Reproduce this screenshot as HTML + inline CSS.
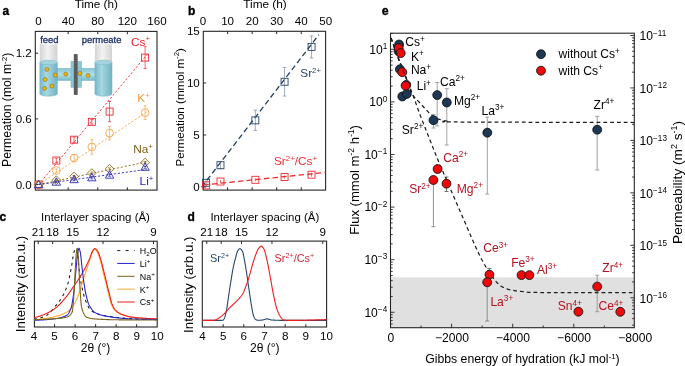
<!DOCTYPE html>
<html><head><meta charset="utf-8"><style>
html,body{margin:0;padding:0;background:#fff;width:685px;height:366px;overflow:hidden;}
svg{display:block;will-change:transform;}
text{font-family:"Liberation Sans", sans-serif;}
</style></head><body>
<svg width="685" height="366" viewBox="0 0 685 366">
<defs><linearGradient id="gglass" x1="0" x2="1" y1="0" y2="0"><stop offset="0" stop-color="#d4d4d4"/><stop offset="0.45" stop-color="#f2f2f2"/><stop offset="1" stop-color="#d2d2d2"/></linearGradient><linearGradient id="gwater" x1="0" x2="1" y1="0" y2="0"><stop offset="0" stop-color="#74b9c8"/><stop offset="0.38" stop-color="#a6d8e2"/><stop offset="1" stop-color="#70b3c3"/></linearGradient><linearGradient id="gtube" x1="0" x2="0" y1="0" y2="1"><stop offset="0" stop-color="#86c4d1"/><stop offset="0.5" stop-color="#b0dee7"/><stop offset="1" stop-color="#78b8c7"/></linearGradient></defs>
<rect x="56.5" y="68.2" width="16" height="12.4" fill="url(#gtube)" stroke="#7fbccb" stroke-width="0.5"/>
<rect x="80.5" y="68.2" width="15" height="12.4" fill="url(#gtube)" stroke="#7fbccb" stroke-width="0.5"/>
<path d="M39.8,44.3 L39.8,62.5 L57.4,62.5 L57.4,44.3 Z" fill="url(#gglass)" />
<path d="M39.8,62.5 L39.8,94.0 A8.8,2.2 0 0 0 57.4,94.0 L57.4,62.5 Z" fill="url(#gwater)" stroke="#72b3c2" stroke-width="0.5"/>
<ellipse cx="48.599999999999994" cy="62.5" rx="8.8" ry="2.2" fill="#a2d5df" stroke="#76b6c4" stroke-width="0.5"/>
<path d="M94.9,44.3 L94.9,62.5 L112.0,62.5 L112.0,44.3 Z" fill="url(#gglass)" />
<path d="M94.9,62.5 L94.9,94.0 A8.549999999999997,2.2 0 0 0 112.0,94.0 L112.0,62.5 Z" fill="url(#gwater)" stroke="#72b3c2" stroke-width="0.5"/>
<ellipse cx="103.45" cy="62.5" rx="8.549999999999997" ry="2.2" fill="#a2d5df" stroke="#76b6c4" stroke-width="0.5"/>
<rect x="71" y="61.5" width="10.5" height="25.8" fill="#8bc8d4" stroke="#6eaebd" stroke-width="0.5"/>
<rect x="73.8" y="53.9" width="3.9" height="41.1" rx="1" fill="#5c5c5c"/>
<circle cx="46.9" cy="69.4" r="2.0" fill="#f2b10c" stroke="#6a5000" stroke-width="0.4"/>
<circle cx="55.4" cy="75.1" r="2.0" fill="#f2b10c" stroke="#6a5000" stroke-width="0.4"/>
<circle cx="65.8" cy="74.2" r="2.0" fill="#f2b10c" stroke="#6a5000" stroke-width="0.4"/>
<circle cx="45.2" cy="79.6" r="2.0" fill="#f2b10c" stroke="#6a5000" stroke-width="0.4"/>
<circle cx="51.8" cy="86.0" r="2.0" fill="#f2b10c" stroke="#6a5000" stroke-width="0.4"/>
<circle cx="44.5" cy="88.4" r="2.0" fill="#f2b10c" stroke="#6a5000" stroke-width="0.4"/>
<circle cx="80.0" cy="73.4" r="2.0" fill="#f2b10c" stroke="#6a5000" stroke-width="0.4"/>
<circle cx="88.0" cy="75.5" r="2.0" fill="#f2b10c" stroke="#6a5000" stroke-width="0.4"/>
<text x="40.20" y="42.60" font-size="9.4" text-anchor="start" fill="#1a2f6c" font-weight="normal" stroke="#1a2f6c" stroke-width="0.3">feed</text>
<text x="81.80" y="42.60" font-size="9.4" text-anchor="start" fill="#1a2f6c" font-weight="normal" stroke="#1a2f6c" stroke-width="0.3">permeate</text>
<rect x="35.30" y="31.40" width="121.70" height="158.70" fill="none" stroke="#262626" stroke-width="1.1"/>
<text x="38.60" y="25.40" font-size="11.6" text-anchor="middle" fill="#000" font-weight="normal" >0</text>
<line x1="68.18" y1="31.40" x2="68.18" y2="34.20" stroke="#262626" stroke-width="1" />
<line x1="68.18" y1="190.10" x2="68.18" y2="187.30" stroke="#262626" stroke-width="1" />
<text x="68.18" y="25.40" font-size="11.6" text-anchor="middle" fill="#000" font-weight="normal" >40</text>
<line x1="97.76" y1="31.40" x2="97.76" y2="34.20" stroke="#262626" stroke-width="1" />
<line x1="97.76" y1="190.10" x2="97.76" y2="187.30" stroke="#262626" stroke-width="1" />
<text x="97.76" y="25.40" font-size="11.6" text-anchor="middle" fill="#000" font-weight="normal" >80</text>
<line x1="127.34" y1="31.40" x2="127.34" y2="34.20" stroke="#262626" stroke-width="1" />
<line x1="127.34" y1="190.10" x2="127.34" y2="187.30" stroke="#262626" stroke-width="1" />
<text x="127.34" y="25.40" font-size="11.6" text-anchor="middle" fill="#000" font-weight="normal" >120</text>
<text x="156.92" y="25.40" font-size="11.6" text-anchor="middle" fill="#000" font-weight="normal" >160</text>
<line x1="35.30" y1="53.20" x2="38.10" y2="53.20" stroke="#262626" stroke-width="1" />
<text x="31.80" y="57.10" font-size="11.6" text-anchor="end" fill="#000" font-weight="normal" >1.2</text>
<line x1="35.30" y1="118.90" x2="38.10" y2="118.90" stroke="#262626" stroke-width="1" />
<text x="31.80" y="122.80" font-size="11.6" text-anchor="end" fill="#000" font-weight="normal" >0.6</text>
<line x1="35.30" y1="184.60" x2="38.10" y2="184.60" stroke="#262626" stroke-width="1" />
<text x="31.80" y="188.50" font-size="11.6" text-anchor="end" fill="#000" font-weight="normal" >0.0</text>
<text x="96.30" y="8.10" font-size="11.7" text-anchor="middle" fill="#000" font-weight="normal" textLength="43.2" lengthAdjust="spacingAndGlyphs" >Time (h)</text>
<text x="2.40" y="14.80" font-size="12" text-anchor="start" fill="#000" font-weight="bold" stroke="#000" stroke-width="0.35">a</text>
<text transform="translate(11.30,109.80) rotate(-90)" x="0" y="0" font-size="11.9" text-anchor="middle" fill="#000" textLength="114.2" lengthAdjust="spacingAndGlyphs">Permeation  (mol m<tspan dy="-4.4" font-size="7.8">-2</tspan><tspan dy="4.4">)</tspan></text>
<line x1="38.60" y1="184.60" x2="147.50" y2="54.00" stroke="#ee2a30" stroke-width="0.9" stroke-dasharray="2.2,1.8"/>
<line x1="38.60" y1="184.60" x2="146.60" y2="112.00" stroke="#f8a54c" stroke-width="0.9" stroke-dasharray="2.2,1.8"/>
<line x1="38.60" y1="184.60" x2="146.60" y2="161.90" stroke="#8e6e1e" stroke-width="0.9" stroke-dasharray="2.2,1.8"/>
<line x1="38.60" y1="184.60" x2="146.60" y2="169.40" stroke="#2a2ab4" stroke-width="0.9" stroke-dasharray="2.2,1.8"/>
<rect x="35.10" y="181.10" width="7" height="7" fill="none" stroke="#ee2a30" stroke-width="0.9"/>
<line x1="56.35" y1="158.32" x2="56.35" y2="162.70" stroke="#ee2a30" stroke-width="0.7" />
<line x1="54.85" y1="158.32" x2="57.85" y2="158.32" stroke="#ee2a30" stroke-width="0.7" />
<line x1="54.85" y1="162.70" x2="57.85" y2="162.70" stroke="#ee2a30" stroke-width="0.7" />
<rect x="52.85" y="157.01" width="7" height="7" fill="none" stroke="#ee2a30" stroke-width="0.9"/>
<line x1="74.10" y1="136.97" x2="74.10" y2="142.44" stroke="#ee2a30" stroke-width="0.7" />
<line x1="72.60" y1="136.97" x2="75.60" y2="136.97" stroke="#ee2a30" stroke-width="0.7" />
<line x1="72.60" y1="142.44" x2="75.60" y2="142.44" stroke="#ee2a30" stroke-width="0.7" />
<rect x="70.60" y="136.20" width="7" height="7" fill="none" stroke="#ee2a30" stroke-width="0.9"/>
<line x1="91.84" y1="119.67" x2="91.84" y2="124.05" stroke="#ee2a30" stroke-width="0.7" />
<line x1="90.34" y1="119.67" x2="93.34" y2="119.67" stroke="#ee2a30" stroke-width="0.7" />
<line x1="90.34" y1="124.05" x2="93.34" y2="124.05" stroke="#ee2a30" stroke-width="0.7" />
<rect x="88.34" y="118.36" width="7" height="7" fill="none" stroke="#ee2a30" stroke-width="0.9"/>
<line x1="109.59" y1="101.49" x2="109.59" y2="121.64" stroke="#ee2a30" stroke-width="0.7" />
<line x1="108.09" y1="101.49" x2="111.09" y2="101.49" stroke="#ee2a30" stroke-width="0.7" />
<line x1="108.09" y1="121.64" x2="111.09" y2="121.64" stroke="#ee2a30" stroke-width="0.7" />
<rect x="106.09" y="108.06" width="7" height="7" fill="none" stroke="#ee2a30" stroke-width="0.9"/>
<line x1="145.09" y1="46.63" x2="145.09" y2="68.53" stroke="#ee2a30" stroke-width="0.7" />
<line x1="143.59" y1="46.63" x2="146.59" y2="46.63" stroke="#ee2a30" stroke-width="0.7" />
<line x1="143.59" y1="68.53" x2="146.59" y2="68.53" stroke="#ee2a30" stroke-width="0.7" />
<rect x="141.59" y="54.08" width="7" height="7" fill="none" stroke="#ee2a30" stroke-width="0.9"/>
<circle cx="38.60" cy="184.60" r="3.9" fill="none" stroke="#f8a54c" stroke-width="0.9"/>
<line x1="56.35" y1="168.94" x2="56.35" y2="172.23" stroke="#f8a54c" stroke-width="0.7" />
<line x1="54.85" y1="168.94" x2="57.85" y2="168.94" stroke="#f8a54c" stroke-width="0.7" />
<line x1="54.85" y1="172.23" x2="57.85" y2="172.23" stroke="#f8a54c" stroke-width="0.7" />
<circle cx="56.35" cy="170.58" r="3.9" fill="none" stroke="#f8a54c" stroke-width="0.9"/>
<line x1="74.10" y1="154.71" x2="74.10" y2="161.28" stroke="#f8a54c" stroke-width="0.7" />
<line x1="72.60" y1="154.71" x2="75.60" y2="154.71" stroke="#f8a54c" stroke-width="0.7" />
<line x1="72.60" y1="161.28" x2="75.60" y2="161.28" stroke="#f8a54c" stroke-width="0.7" />
<circle cx="74.10" cy="157.99" r="3.9" fill="none" stroke="#f8a54c" stroke-width="0.9"/>
<line x1="91.84" y1="139.60" x2="91.84" y2="154.27" stroke="#f8a54c" stroke-width="0.7" />
<line x1="90.34" y1="139.60" x2="93.34" y2="139.60" stroke="#f8a54c" stroke-width="0.7" />
<line x1="90.34" y1="154.27" x2="93.34" y2="154.27" stroke="#f8a54c" stroke-width="0.7" />
<circle cx="91.84" cy="146.93" r="3.9" fill="none" stroke="#f8a54c" stroke-width="0.9"/>
<line x1="109.59" y1="126.35" x2="109.59" y2="139.92" stroke="#f8a54c" stroke-width="0.7" />
<line x1="108.09" y1="126.35" x2="111.09" y2="126.35" stroke="#f8a54c" stroke-width="0.7" />
<line x1="108.09" y1="139.92" x2="111.09" y2="139.92" stroke="#f8a54c" stroke-width="0.7" />
<circle cx="109.59" cy="133.13" r="3.9" fill="none" stroke="#f8a54c" stroke-width="0.9"/>
<line x1="145.09" y1="105.76" x2="145.09" y2="119.56" stroke="#f8a54c" stroke-width="0.7" />
<line x1="143.59" y1="105.76" x2="146.59" y2="105.76" stroke="#f8a54c" stroke-width="0.7" />
<line x1="143.59" y1="119.56" x2="146.59" y2="119.56" stroke="#f8a54c" stroke-width="0.7" />
<circle cx="145.09" cy="112.66" r="3.9" fill="none" stroke="#f8a54c" stroke-width="0.9"/>
<path d="M38.60,180.20 L43.00,184.60 L38.60,189.00 L34.20,184.60 Z" fill="none" stroke="#8e6e1e" stroke-width="0.9"/>
<line x1="56.35" y1="179.67" x2="56.35" y2="180.77" stroke="#8e6e1e" stroke-width="0.7" />
<line x1="54.85" y1="179.67" x2="57.85" y2="179.67" stroke="#8e6e1e" stroke-width="0.7" />
<line x1="54.85" y1="180.77" x2="57.85" y2="180.77" stroke="#8e6e1e" stroke-width="0.7" />
<path d="M56.35,175.82 L60.75,180.22 L56.35,184.62 L51.95,180.22 Z" fill="none" stroke="#8e6e1e" stroke-width="0.9"/>
<line x1="74.10" y1="175.29" x2="74.10" y2="177.48" stroke="#8e6e1e" stroke-width="0.7" />
<line x1="72.60" y1="175.29" x2="75.60" y2="175.29" stroke="#8e6e1e" stroke-width="0.7" />
<line x1="72.60" y1="177.48" x2="75.60" y2="177.48" stroke="#8e6e1e" stroke-width="0.7" />
<path d="M74.10,171.99 L78.50,176.39 L74.10,180.79 L69.70,176.39 Z" fill="none" stroke="#8e6e1e" stroke-width="0.9"/>
<line x1="91.84" y1="172.01" x2="91.84" y2="174.20" stroke="#8e6e1e" stroke-width="0.7" />
<line x1="90.34" y1="172.01" x2="93.34" y2="172.01" stroke="#8e6e1e" stroke-width="0.7" />
<line x1="90.34" y1="174.20" x2="93.34" y2="174.20" stroke="#8e6e1e" stroke-width="0.7" />
<path d="M91.84,168.70 L96.24,173.10 L91.84,177.50 L87.44,173.10 Z" fill="none" stroke="#8e6e1e" stroke-width="0.9"/>
<line x1="109.59" y1="167.85" x2="109.59" y2="170.04" stroke="#8e6e1e" stroke-width="0.7" />
<line x1="108.09" y1="167.85" x2="111.09" y2="167.85" stroke="#8e6e1e" stroke-width="0.7" />
<line x1="108.09" y1="170.04" x2="111.09" y2="170.04" stroke="#8e6e1e" stroke-width="0.7" />
<path d="M109.59,164.54 L113.99,168.94 L109.59,173.34 L105.19,168.94 Z" fill="none" stroke="#8e6e1e" stroke-width="0.9"/>
<line x1="145.09" y1="161.50" x2="145.09" y2="163.69" stroke="#8e6e1e" stroke-width="0.7" />
<line x1="143.59" y1="161.50" x2="146.59" y2="161.50" stroke="#8e6e1e" stroke-width="0.7" />
<line x1="143.59" y1="163.69" x2="146.59" y2="163.69" stroke="#8e6e1e" stroke-width="0.7" />
<path d="M145.09,158.19 L149.49,162.59 L145.09,166.99 L140.69,162.59 Z" fill="none" stroke="#8e6e1e" stroke-width="0.9"/>
<path d="M38.60,180.20 L42.80,187.60 L34.40,187.60 Z" fill="none" stroke="#2a2ab4" stroke-width="0.9"/>
<line x1="56.35" y1="181.64" x2="56.35" y2="182.74" stroke="#2a2ab4" stroke-width="0.7" />
<line x1="54.85" y1="181.64" x2="57.85" y2="181.64" stroke="#2a2ab4" stroke-width="0.7" />
<line x1="54.85" y1="182.74" x2="57.85" y2="182.74" stroke="#2a2ab4" stroke-width="0.7" />
<path d="M56.35,177.79 L60.55,185.19 L52.15,185.19 Z" fill="none" stroke="#2a2ab4" stroke-width="0.9"/>
<line x1="74.10" y1="178.58" x2="74.10" y2="180.77" stroke="#2a2ab4" stroke-width="0.7" />
<line x1="72.60" y1="178.58" x2="75.60" y2="178.58" stroke="#2a2ab4" stroke-width="0.7" />
<line x1="72.60" y1="180.77" x2="75.60" y2="180.77" stroke="#2a2ab4" stroke-width="0.7" />
<path d="M74.10,175.27 L78.30,182.67 L69.90,182.67 Z" fill="none" stroke="#2a2ab4" stroke-width="0.9"/>
<line x1="91.84" y1="176.72" x2="91.84" y2="178.91" stroke="#2a2ab4" stroke-width="0.7" />
<line x1="90.34" y1="176.72" x2="93.34" y2="176.72" stroke="#2a2ab4" stroke-width="0.7" />
<line x1="90.34" y1="178.91" x2="93.34" y2="178.91" stroke="#2a2ab4" stroke-width="0.7" />
<path d="M91.84,173.41 L96.04,180.81 L87.64,180.81 Z" fill="none" stroke="#2a2ab4" stroke-width="0.9"/>
<line x1="109.59" y1="174.09" x2="109.59" y2="176.28" stroke="#2a2ab4" stroke-width="0.7" />
<line x1="108.09" y1="174.09" x2="111.09" y2="174.09" stroke="#2a2ab4" stroke-width="0.7" />
<line x1="108.09" y1="176.28" x2="111.09" y2="176.28" stroke="#2a2ab4" stroke-width="0.7" />
<path d="M109.59,170.78 L113.79,178.18 L105.39,178.18 Z" fill="none" stroke="#2a2ab4" stroke-width="0.9"/>
<line x1="145.09" y1="166.20" x2="145.09" y2="168.39" stroke="#2a2ab4" stroke-width="0.7" />
<line x1="143.59" y1="166.20" x2="146.59" y2="166.20" stroke="#2a2ab4" stroke-width="0.7" />
<line x1="143.59" y1="168.39" x2="146.59" y2="168.39" stroke="#2a2ab4" stroke-width="0.7" />
<path d="M145.09,162.90 L149.29,170.30 L140.89,170.30 Z" fill="none" stroke="#2a2ab4" stroke-width="0.9"/>
<text x="131.00" y="45.60" font-size="11.8" text-anchor="start" fill="#ee1c24" font-weight="normal" >Cs<tspan dy="-4.4" font-size="7.8">+</tspan></text>
<text x="137.30" y="101.90" font-size="11.8" text-anchor="start" fill="#f79a3a" font-weight="normal" >K<tspan dy="-4.4" font-size="7.8">+</tspan></text>
<text x="133.20" y="153.40" font-size="11.8" text-anchor="start" fill="#7e611a" font-weight="normal" >Na<tspan dy="-4.4" font-size="7.8">+</tspan></text>
<text x="139.60" y="185.00" font-size="11.8" text-anchor="start" fill="#1e1eaa" font-weight="normal" >Li<tspan dy="-4.4" font-size="7.8">+</tspan></text>
<rect x="203.30" y="31.30" width="122.30" height="158.80" fill="none" stroke="#262626" stroke-width="1.1"/>
<text x="203.05" y="25.40" font-size="11.6" text-anchor="middle" fill="#000" font-weight="normal" >0</text>
<line x1="227.60" y1="31.30" x2="227.60" y2="34.10" stroke="#262626" stroke-width="1" />
<line x1="227.60" y1="190.10" x2="227.60" y2="187.30" stroke="#262626" stroke-width="1" />
<text x="227.60" y="25.40" font-size="11.6" text-anchor="middle" fill="#000" font-weight="normal" >10</text>
<line x1="252.15" y1="31.30" x2="252.15" y2="34.10" stroke="#262626" stroke-width="1" />
<line x1="252.15" y1="190.10" x2="252.15" y2="187.30" stroke="#262626" stroke-width="1" />
<text x="252.15" y="25.40" font-size="11.6" text-anchor="middle" fill="#000" font-weight="normal" >20</text>
<line x1="276.70" y1="31.30" x2="276.70" y2="34.10" stroke="#262626" stroke-width="1" />
<line x1="276.70" y1="190.10" x2="276.70" y2="187.30" stroke="#262626" stroke-width="1" />
<text x="276.70" y="25.40" font-size="11.6" text-anchor="middle" fill="#000" font-weight="normal" >30</text>
<line x1="301.25" y1="31.30" x2="301.25" y2="34.10" stroke="#262626" stroke-width="1" />
<line x1="301.25" y1="190.10" x2="301.25" y2="187.30" stroke="#262626" stroke-width="1" />
<text x="301.25" y="25.40" font-size="11.6" text-anchor="middle" fill="#000" font-weight="normal" >40</text>
<text x="325.80" y="25.40" font-size="11.6" text-anchor="middle" fill="#000" font-weight="normal" >50</text>
<text x="199.80" y="35.00" font-size="11.6" text-anchor="end" fill="#000" font-weight="normal" >15</text>
<line x1="203.30" y1="83.00" x2="206.10" y2="83.00" stroke="#262626" stroke-width="1" />
<text x="199.80" y="87.00" font-size="11.6" text-anchor="end" fill="#000" font-weight="normal" >10</text>
<line x1="203.30" y1="135.00" x2="206.10" y2="135.00" stroke="#262626" stroke-width="1" />
<text x="199.80" y="139.00" font-size="11.6" text-anchor="end" fill="#000" font-weight="normal" >5</text>
<line x1="203.30" y1="187.00" x2="206.10" y2="187.00" stroke="#262626" stroke-width="1" />
<text x="199.80" y="191.00" font-size="11.6" text-anchor="end" fill="#000" font-weight="normal" >0</text>
<text x="265.00" y="8.30" font-size="11.7" text-anchor="middle" fill="#000" font-weight="normal" textLength="43.5" lengthAdjust="spacingAndGlyphs" >Time (h)</text>
<text x="188.00" y="14.80" font-size="12" text-anchor="start" fill="#000" font-weight="bold" stroke="#000" stroke-width="0.35">b</text>
<text transform="translate(183.80,107.30) rotate(-90)" x="0" y="0" font-size="11.6" text-anchor="middle" fill="#000" textLength="118.4" lengthAdjust="spacingAndGlyphs">Permeation (mmol m<tspan dy="-4.4" font-size="7.8">-2</tspan><tspan dy="4.4">)</tspan></text>
<line x1="201.58" y1="187.15" x2="318.93" y2="34.66" stroke="#22405f" stroke-width="1.3" stroke-dasharray="5.5,3.2"/>
<line x1="203.30" y1="185.00" x2="325.60" y2="172.40" stroke="#ee2b30" stroke-width="1.3" stroke-dasharray="5.5,3.2"/>
<line x1="206.12" y1="181.23" x2="206.12" y2="184.29" stroke="#7a8aa0" stroke-width="0.7" />
<line x1="204.32" y1="181.23" x2="207.92" y2="181.23" stroke="#7a8aa0" stroke-width="0.7" />
<line x1="204.32" y1="184.29" x2="207.92" y2="184.29" stroke="#7a8aa0" stroke-width="0.7" />
<rect x="202.62" y="179.26" width="7" height="7" fill="none" stroke="#28466a" stroke-width="0.9"/>
<line x1="220.48" y1="161.65" x2="220.48" y2="168.79" stroke="#7a8aa0" stroke-width="0.7" />
<line x1="218.68" y1="161.65" x2="222.28" y2="161.65" stroke="#7a8aa0" stroke-width="0.7" />
<line x1="218.68" y1="168.79" x2="222.28" y2="168.79" stroke="#7a8aa0" stroke-width="0.7" />
<rect x="216.98" y="161.72" width="7" height="7" fill="none" stroke="#28466a" stroke-width="0.9"/>
<line x1="255.34" y1="110.14" x2="255.34" y2="130.54" stroke="#7a8aa0" stroke-width="0.7" />
<line x1="253.54" y1="110.14" x2="257.14" y2="110.14" stroke="#7a8aa0" stroke-width="0.7" />
<line x1="253.54" y1="130.54" x2="257.14" y2="130.54" stroke="#7a8aa0" stroke-width="0.7" />
<rect x="251.84" y="116.84" width="7" height="7" fill="none" stroke="#28466a" stroke-width="0.9"/>
<line x1="284.56" y1="67.50" x2="284.56" y2="96.06" stroke="#7a8aa0" stroke-width="0.7" />
<line x1="282.76" y1="67.50" x2="286.36" y2="67.50" stroke="#7a8aa0" stroke-width="0.7" />
<line x1="282.76" y1="96.06" x2="286.36" y2="96.06" stroke="#7a8aa0" stroke-width="0.7" />
<rect x="281.06" y="78.28" width="7" height="7" fill="none" stroke="#28466a" stroke-width="0.9"/>
<line x1="311.56" y1="35.88" x2="311.56" y2="57.92" stroke="#7a8aa0" stroke-width="0.7" />
<line x1="309.76" y1="35.88" x2="313.36" y2="35.88" stroke="#7a8aa0" stroke-width="0.7" />
<line x1="309.76" y1="57.92" x2="313.36" y2="57.92" stroke="#7a8aa0" stroke-width="0.7" />
<rect x="308.06" y="43.40" width="7" height="7" fill="none" stroke="#28466a" stroke-width="0.9"/>
<line x1="206.12" y1="184.40" x2="206.12" y2="186.44" stroke="#ee2b30" stroke-width="0.7" />
<rect x="202.62" y="181.92" width="7" height="7" fill="none" stroke="#ee2b30" stroke-width="0.9"/>
<line x1="220.48" y1="180.01" x2="220.48" y2="183.07" stroke="#ee2b30" stroke-width="0.7" />
<rect x="216.98" y="178.04" width="7" height="7" fill="none" stroke="#ee2b30" stroke-width="0.9"/>
<line x1="255.34" y1="178.28" x2="255.34" y2="181.34" stroke="#ee2b30" stroke-width="0.7" />
<rect x="251.84" y="176.31" width="7" height="7" fill="none" stroke="#ee2b30" stroke-width="0.9"/>
<line x1="284.56" y1="175.52" x2="284.56" y2="178.58" stroke="#ee2b30" stroke-width="0.7" />
<rect x="281.06" y="173.55" width="7" height="7" fill="none" stroke="#ee2b30" stroke-width="0.9"/>
<line x1="311.56" y1="172.67" x2="311.56" y2="176.75" stroke="#ee2b30" stroke-width="0.7" />
<rect x="308.06" y="171.21" width="7" height="7" fill="none" stroke="#ee2b30" stroke-width="0.9"/>
<text x="300.30" y="77.00" font-size="11.8" text-anchor="start" fill="#28466a" font-weight="normal" >Sr<tspan dy="-4.4" font-size="7.8">2+</tspan></text>
<text x="274.00" y="165.40" font-size="11.8" text-anchor="start" fill="#ee2b30" font-weight="normal" >Sr<tspan dy="-4.4" font-size="7.8">2+</tspan><tspan dy="4.4">/Cs</tspan><tspan dy="-4.4" font-size="7.8">+</tspan></text>
<rect x="34.40" y="241.20" width="122.80" height="85.80" fill="none" stroke="#262626" stroke-width="1.1"/>
<text x="34.05" y="340.30" font-size="11.6" text-anchor="middle" fill="#000" font-weight="normal" >4</text>
<line x1="54.57" y1="327.00" x2="54.57" y2="324.20" stroke="#262626" stroke-width="1" />
<text x="54.57" y="340.30" font-size="11.6" text-anchor="middle" fill="#000" font-weight="normal" >5</text>
<line x1="75.09" y1="327.00" x2="75.09" y2="324.20" stroke="#262626" stroke-width="1" />
<text x="75.09" y="340.30" font-size="11.6" text-anchor="middle" fill="#000" font-weight="normal" >6</text>
<line x1="95.61" y1="327.00" x2="95.61" y2="324.20" stroke="#262626" stroke-width="1" />
<text x="95.61" y="340.30" font-size="11.6" text-anchor="middle" fill="#000" font-weight="normal" >7</text>
<line x1="116.13" y1="327.00" x2="116.13" y2="324.20" stroke="#262626" stroke-width="1" />
<text x="116.13" y="340.30" font-size="11.6" text-anchor="middle" fill="#000" font-weight="normal" >8</text>
<line x1="136.65" y1="327.00" x2="136.65" y2="324.20" stroke="#262626" stroke-width="1" />
<text x="136.65" y="340.30" font-size="11.6" text-anchor="middle" fill="#000" font-weight="normal" >9</text>
<text x="157.17" y="340.30" font-size="11.6" text-anchor="middle" fill="#000" font-weight="normal" >10</text>
<line x1="38.24" y1="241.20" x2="38.24" y2="244.00" stroke="#262626" stroke-width="1" />
<text x="38.24" y="235.80" font-size="11.6" text-anchor="middle" fill="#000" font-weight="normal" >21</text>
<line x1="52.63" y1="241.20" x2="52.63" y2="244.00" stroke="#262626" stroke-width="1" />
<text x="52.63" y="235.80" font-size="11.6" text-anchor="middle" fill="#000" font-weight="normal" >18</text>
<line x1="72.78" y1="241.20" x2="72.78" y2="244.00" stroke="#262626" stroke-width="1" />
<text x="72.78" y="235.80" font-size="11.6" text-anchor="middle" fill="#000" font-weight="normal" >15</text>
<line x1="103.02" y1="241.20" x2="103.02" y2="244.00" stroke="#262626" stroke-width="1" />
<text x="103.02" y="235.80" font-size="11.6" text-anchor="middle" fill="#000" font-weight="normal" >12</text>
<line x1="153.47" y1="241.20" x2="153.47" y2="244.00" stroke="#262626" stroke-width="1" />
<text x="153.47" y="235.80" font-size="11.6" text-anchor="middle" fill="#000" font-weight="normal" >9</text>
<text x="95.60" y="352.40" font-size="12" text-anchor="middle" fill="#000" font-weight="normal" >2θ (°)</text>
<text x="95.50" y="220.90" font-size="11.7" text-anchor="middle" fill="#000" font-weight="normal" textLength="108.8" lengthAdjust="spacingAndGlyphs" >Interlayer spacing (Å)</text>
<text x="-0.40" y="221.40" font-size="12" text-anchor="start" fill="#000" font-weight="bold" stroke="#000" stroke-width="0.35">c</text>
<text transform="translate(25.00,284.00) rotate(-90)" x="0" y="0" font-size="13.2" text-anchor="middle" fill="#000" textLength="96.4" lengthAdjust="spacingAndGlyphs">Intensity (arb.u.)</text>
<polyline points="34.05,319.00 34.30,319.00 34.54,318.99 34.79,318.98 35.04,318.97 35.28,318.95 35.53,318.93 35.78,318.91 36.02,318.88 36.27,318.85 36.52,318.82 36.76,318.78 37.01,318.74 37.26,318.70 37.50,318.65 37.75,318.60 38.00,318.55 38.24,318.50 38.49,318.44 38.74,318.38 38.98,318.32 39.23,318.26 39.48,318.19 39.72,318.12 39.97,318.05 40.22,317.98 40.47,317.90 40.71,317.83 40.96,317.75 41.21,317.67 41.45,317.59 41.70,317.50 41.95,317.42 42.19,317.33 42.44,317.24 42.69,317.16 42.93,317.06 43.18,316.97 43.43,316.88 43.67,316.79 43.92,316.69 44.17,316.60 44.41,316.50 44.66,316.40 44.91,316.31 45.15,316.21 45.40,316.09 45.65,315.97 45.89,315.84 46.14,315.69 46.39,315.54 46.63,315.38 46.88,315.21 47.13,315.03 47.37,314.84 47.62,314.65 47.87,314.45 48.11,314.23 48.36,314.02 48.61,313.79 48.85,313.56 49.10,313.33 49.35,313.08 49.59,312.84 49.84,312.58 50.09,312.32 50.33,312.06 50.58,311.79 50.83,311.52 51.07,311.25 51.32,310.97 51.57,310.69 51.81,310.40 52.06,310.11 52.31,309.82 52.56,309.53 52.80,309.24 53.05,308.94 53.30,308.65 53.54,308.35 53.79,308.05 54.04,307.75 54.28,307.46 54.53,307.16 54.78,306.86 55.02,306.57 55.27,306.27 55.52,305.98 55.76,305.69 56.01,305.40 56.26,305.11 56.50,304.82 56.75,304.53 57.00,304.23 57.24,303.93 57.49,303.64 57.74,303.33 57.98,303.03 58.23,302.72 58.48,302.40 58.72,302.08 58.97,301.76 59.22,301.43 59.46,301.09 59.71,300.75 59.96,300.40 60.20,300.05 60.45,299.69 60.70,299.32 60.94,298.94 61.19,298.56 61.44,298.16 61.68,297.76 61.93,297.35 62.18,296.93 62.42,296.50 62.67,296.06 62.92,295.61 63.16,295.16 63.41,294.69 63.66,294.21 63.90,293.72 64.15,293.22 64.40,292.70 64.64,292.17 64.89,291.63 65.14,291.07 65.39,290.49 65.63,289.90 65.88,289.29 66.13,288.66 66.37,288.01 66.62,287.34 66.87,286.65 67.11,285.94 67.36,285.21 67.61,284.46 67.85,283.68 68.10,282.86 68.35,281.95 68.59,280.96 68.84,279.90 69.09,278.79 69.33,277.62 69.58,276.42 69.83,275.18 70.07,273.92 70.32,272.65 70.57,271.38 70.81,270.11 71.06,268.86 71.31,267.61 71.55,266.24 71.80,264.77 72.05,263.22 72.29,261.62 72.54,260.01 72.79,258.42 73.03,256.89 73.28,255.44 73.53,254.11 73.77,252.93 74.02,251.94 74.27,251.16 74.51,250.63 74.76,250.20 75.01,249.80 75.25,249.43 75.50,249.12 75.75,248.86 75.99,248.69 76.24,248.61 76.49,248.79 76.73,249.68 76.98,251.07 77.23,252.75 77.48,254.48 77.72,256.22 77.97,258.32 78.22,260.69 78.46,263.19 78.71,265.67 78.96,268.01 79.20,270.06 79.45,271.91 79.70,273.70 79.94,275.44 80.19,277.12 80.44,278.73 80.68,280.28 80.93,281.76 81.18,283.17 81.42,284.51 81.67,285.77 81.92,286.98 82.16,288.16 82.41,289.31 82.66,290.43 82.90,291.51 83.15,292.56 83.40,293.56 83.64,294.53 83.89,295.45 84.14,296.32 84.38,297.14 84.63,297.91 84.88,298.63 85.12,299.30 85.37,299.96 85.62,300.61 85.86,301.25 86.11,301.88 86.36,302.49 86.60,303.09 86.85,303.67 87.10,304.24 87.34,304.78 87.59,305.31 87.84,305.82 88.08,306.31 88.33,306.78 88.58,307.23 88.82,307.65 89.07,308.05 89.32,308.42 89.57,308.76 89.81,309.08 90.06,309.37 90.31,309.63 90.55,309.87 90.80,310.08 91.05,310.30 91.29,310.50 91.54,310.70 91.79,310.89 92.03,311.08 92.28,311.26 92.53,311.43 92.77,311.60 93.02,311.76 93.27,311.92 93.51,312.07 93.76,312.22 94.01,312.36 94.25,312.50 94.50,312.63 94.75,312.76 94.99,312.88 95.24,313.00 95.49,313.12 95.73,313.23 95.98,313.33 96.23,313.44 96.47,313.53 96.72,313.63 96.97,313.72 97.21,313.81 97.46,313.90 97.71,313.98 97.95,314.06 98.20,314.14 98.45,314.22 98.69,314.29 98.94,314.36 99.19,314.43 99.43,314.50 99.68,314.57 99.93,314.64 100.17,314.70 100.42,314.77 100.67,314.83 100.91,314.89 101.16,314.95 101.41,315.01 101.65,315.06 101.90,315.12 102.15,315.17 102.40,315.23 102.64,315.28 102.89,315.33 103.14,315.38 103.38,315.43 103.63,315.48 103.88,315.52 104.12,315.57 104.37,315.61 104.62,315.66 104.86,315.70 105.11,315.75 105.36,315.79 105.60,315.83 105.85,315.87 106.10,315.91 106.34,315.95 106.59,315.99 106.84,316.03 107.08,316.07 107.33,316.11 107.58,316.15 107.82,316.18 108.07,316.22 108.32,316.26 108.56,316.30 108.81,316.33 109.06,316.37 109.30,316.41 109.55,316.44 109.80,316.48 110.04,316.52 110.29,316.55 110.54,316.59 110.78,316.62 111.03,316.66 111.28,316.69 111.52,316.73 111.77,316.76 112.02,316.80 112.26,316.83 112.51,316.87 112.76,316.90 113.00,316.93 113.25,316.97 113.50,317.00 113.74,317.03 113.99,317.06 114.24,317.10 114.49,317.13 114.73,317.16 114.98,317.19 115.23,317.22 115.47,317.25 115.72,317.28 115.97,317.31 116.21,317.34 116.46,317.37 116.71,317.40 116.95,317.43 117.20,317.46 117.45,317.49 117.69,317.52 117.94,317.55 118.19,317.57 118.43,317.60 118.68,317.63 118.93,317.65 119.17,317.68 119.42,317.71 119.67,317.73 119.91,317.76 120.16,317.78 120.41,317.81 120.65,317.83 120.90,317.86 121.15,317.88 121.39,317.90 121.64,317.93 121.89,317.95 122.13,317.97 122.38,317.99 122.63,318.01 122.87,318.04 123.12,318.06 123.37,318.08 123.61,318.10 123.86,318.12 124.11,318.14 124.35,318.16 124.60,318.18 124.85,318.19 125.09,318.21 125.34,318.23 125.59,318.25 125.83,318.26 126.08,318.28 126.33,318.30 126.58,318.31 126.82,318.33 127.07,318.34 127.32,318.36 127.56,318.37 127.81,318.39 128.06,318.41 128.30,318.42 128.55,318.44 128.80,318.45 129.04,318.47 129.29,318.48 129.54,318.50 129.78,318.52 130.03,318.53 130.28,318.55 130.52,318.56 130.77,318.58 131.02,318.59 131.26,318.61 131.51,318.62 131.76,318.64 132.00,318.65 132.25,318.67 132.50,318.68 132.74,318.70 132.99,318.71 133.24,318.73 133.48,318.74 133.73,318.76 133.98,318.77 134.22,318.79 134.47,318.80 134.72,318.82 134.96,318.83 135.21,318.85 135.46,318.86 135.70,318.88 135.95,318.89 136.20,318.90 136.44,318.92 136.69,318.93 136.94,318.95 137.18,318.96 137.43,318.97 137.68,318.99 137.92,319.00 138.17,319.01 138.42,319.03 138.66,319.04 138.91,319.05 139.16,319.07 139.41,319.08 139.65,319.09 139.90,319.10 140.15,319.12 140.39,319.13 140.64,319.14 140.89,319.15 141.13,319.17 141.38,319.18 141.63,319.19 141.87,319.20 142.12,319.21 142.37,319.22 142.61,319.24 142.86,319.25 143.11,319.26 143.35,319.27 143.60,319.28 143.85,319.29 144.09,319.30 144.34,319.31 144.59,319.32 144.83,319.33 145.08,319.34 145.33,319.35 145.57,319.36 145.82,319.37 146.07,319.38 146.31,319.39 146.56,319.40 146.81,319.41 147.05,319.41 147.30,319.42 147.55,319.43 147.79,319.44 148.04,319.45 148.29,319.45 148.53,319.46 148.78,319.47 149.03,319.48 149.27,319.48 149.52,319.49 149.77,319.50 150.01,319.50 150.26,319.51 150.51,319.52 150.75,319.52 151.00,319.53 151.25,319.53 151.50,319.54 151.74,319.54 151.99,319.55 152.24,319.55 152.48,319.56 152.73,319.56 152.98,319.57 153.22,319.57 153.47,319.57 153.72,319.58 153.96,319.58 154.21,319.58 154.46,319.59 154.70,319.59 154.95,319.59 155.20,319.59 155.44,319.59 155.69,319.60 155.94,319.60 156.18,319.60 156.43,319.60 156.68,319.60 156.92,319.60 157.17,319.60" fill="none" stroke="#1a1a1a" stroke-width="1.1" stroke-dasharray="2.8,3.6" stroke-linejoin="round" />
<polyline points="34.05,319.60 34.30,319.60 34.54,319.60 34.79,319.59 35.04,319.59 35.28,319.58 35.53,319.58 35.78,319.57 36.02,319.56 36.27,319.55 36.52,319.54 36.76,319.53 37.01,319.52 37.26,319.50 37.50,319.49 37.75,319.47 38.00,319.45 38.24,319.43 38.49,319.41 38.74,319.39 38.98,319.37 39.23,319.35 39.48,319.33 39.72,319.30 39.97,319.28 40.22,319.25 40.47,319.22 40.71,319.20 40.96,319.17 41.21,319.14 41.45,319.11 41.70,319.08 41.95,319.04 42.19,319.01 42.44,318.98 42.69,318.94 42.93,318.91 43.18,318.87 43.43,318.83 43.67,318.80 43.92,318.76 44.17,318.72 44.41,318.68 44.66,318.64 44.91,318.60 45.15,318.56 45.40,318.52 45.65,318.47 45.89,318.43 46.14,318.39 46.39,318.34 46.63,318.30 46.88,318.25 47.13,318.21 47.37,318.16 47.62,318.11 47.87,318.06 48.11,318.02 48.36,317.97 48.61,317.92 48.85,317.87 49.10,317.82 49.35,317.77 49.59,317.72 49.84,317.67 50.09,317.61 50.33,317.56 50.58,317.51 50.83,317.46 51.07,317.40 51.32,317.35 51.57,317.30 51.81,317.24 52.06,317.19 52.31,317.14 52.56,317.08 52.80,317.03 53.05,316.97 53.30,316.92 53.54,316.86 53.79,316.81 54.04,316.75 54.28,316.69 54.53,316.64 54.78,316.58 55.02,316.53 55.27,316.47 55.52,316.41 55.76,316.36 56.01,316.30 56.26,316.24 56.50,316.18 56.75,316.12 57.00,316.06 57.24,316.00 57.49,315.93 57.74,315.87 57.98,315.80 58.23,315.73 58.48,315.66 58.72,315.58 58.97,315.51 59.22,315.43 59.46,315.35 59.71,315.27 59.96,315.19 60.20,315.10 60.45,315.02 60.70,314.93 60.94,314.84 61.19,314.75 61.44,314.65 61.68,314.56 61.93,314.46 62.18,314.36 62.42,314.26 62.67,314.15 62.92,314.04 63.16,313.93 63.41,313.82 63.66,313.71 63.90,313.59 64.15,313.47 64.40,313.35 64.64,313.23 64.89,313.11 65.14,312.98 65.39,312.85 65.63,312.71 65.88,312.58 66.13,312.44 66.37,312.30 66.62,312.16 66.87,312.01 67.11,311.86 67.36,311.70 67.61,311.52 67.85,311.34 68.10,311.15 68.35,310.95 68.59,310.74 68.84,310.53 69.09,310.30 69.33,310.06 69.58,309.82 69.83,309.57 70.07,309.31 70.32,309.05 70.57,308.77 70.81,308.49 71.06,308.20 71.31,307.91 71.55,307.61 71.80,307.30 72.05,306.98 72.29,306.66 72.54,306.34 72.79,306.01 73.03,305.67 73.28,305.33 73.53,304.98 73.77,304.63 74.02,304.25 74.27,303.86 74.51,303.45 74.76,303.02 75.01,302.57 75.25,302.11 75.50,301.63 75.75,301.13 75.99,300.62 76.24,300.09 76.49,299.56 76.73,299.01 76.98,298.44 77.23,297.87 77.48,297.29 77.72,296.69 77.97,296.09 78.22,295.48 78.46,294.84 78.71,294.17 78.96,293.46 79.20,292.73 79.45,291.97 79.70,291.19 79.94,290.39 80.19,289.58 80.44,288.75 80.68,287.92 80.93,287.08 81.18,286.24 81.42,285.41 81.67,284.58 81.92,283.75 82.16,282.95 82.41,282.15 82.66,281.38 82.90,280.62 83.15,279.87 83.40,279.11 83.64,278.36 83.89,277.62 84.14,276.87 84.38,276.13 84.63,275.39 84.88,274.65 85.12,273.91 85.37,273.18 85.62,272.44 85.86,271.71 86.11,270.98 86.36,270.25 86.60,269.52 86.85,268.79 87.10,268.06 87.34,267.33 87.59,266.60 87.84,265.87 88.08,265.15 88.33,264.42 88.58,263.69 88.82,262.96 89.07,262.23 89.32,261.49 89.57,260.74 89.81,259.96 90.06,259.17 90.31,258.38 90.55,257.58 90.80,256.79 91.05,256.01 91.29,255.25 91.54,254.52 91.79,253.82 92.03,253.17 92.28,252.56 92.53,252.01 92.77,251.47 93.02,250.90 93.27,250.35 93.51,249.86 93.76,249.48 94.01,249.25 94.25,249.20 94.50,249.25 94.75,249.35 94.99,249.49 95.24,249.67 95.49,249.88 95.73,250.11 95.98,250.35 96.23,250.60 96.47,250.88 96.72,251.23 96.97,251.64 97.21,252.10 97.46,252.61 97.71,253.17 97.95,253.76 98.20,254.38 98.45,255.03 98.69,255.71 98.94,256.39 99.19,257.09 99.43,257.79 99.68,258.50 99.93,259.27 100.17,260.10 100.42,260.97 100.67,261.89 100.91,262.84 101.16,263.83 101.41,264.84 101.65,265.88 101.90,266.93 102.15,268.00 102.40,269.08 102.64,270.15 102.89,271.23 103.14,272.30 103.38,273.35 103.63,274.39 103.88,275.41 104.12,276.40 104.37,277.39 104.62,278.38 104.86,279.38 105.11,280.38 105.36,281.39 105.60,282.39 105.85,283.39 106.10,284.39 106.34,285.39 106.59,286.39 106.84,287.38 107.08,288.36 107.33,289.34 107.58,290.30 107.82,291.26 108.07,292.21 108.32,293.14 108.56,294.08 108.81,295.05 109.06,296.04 109.30,297.03 109.55,298.02 109.80,299.00 110.04,299.96 110.29,300.88 110.54,301.77 110.78,302.60 111.03,303.37 111.28,304.07 111.52,304.69 111.77,305.24 112.02,305.76 112.26,306.25 112.51,306.73 112.76,307.18 113.00,307.62 113.25,308.03 113.50,308.42 113.74,308.78 113.99,309.13 114.24,309.45 114.49,309.75 114.73,310.03 114.98,310.28 115.23,310.51 115.47,310.73 115.72,310.95 115.97,311.15 116.21,311.35 116.46,311.54 116.71,311.73 116.95,311.90 117.20,312.08 117.45,312.24 117.69,312.40 117.94,312.55 118.19,312.70 118.43,312.84 118.68,312.98 118.93,313.11 119.17,313.24 119.42,313.36 119.67,313.48 119.91,313.60 120.16,313.71 120.41,313.81 120.65,313.92 120.90,314.02 121.15,314.12 121.39,314.22 121.64,314.32 121.89,314.41 122.13,314.51 122.38,314.60 122.63,314.69 122.87,314.78 123.12,314.87 123.37,314.96 123.61,315.05 123.86,315.13 124.11,315.22 124.35,315.30 124.60,315.38 124.85,315.46 125.09,315.54 125.34,315.62 125.59,315.70 125.83,315.77 126.08,315.84 126.33,315.92 126.58,315.99 126.82,316.05 127.07,316.12 127.32,316.19 127.56,316.25 127.81,316.31 128.06,316.38 128.30,316.44 128.55,316.49 128.80,316.55 129.04,316.61 129.29,316.66 129.54,316.71 129.78,316.76 130.03,316.81 130.28,316.86 130.52,316.90 130.77,316.95 131.02,316.99 131.26,317.03 131.51,317.07 131.76,317.10 132.00,317.14 132.25,317.18 132.50,317.21 132.74,317.24 132.99,317.28 133.24,317.31 133.48,317.34 133.73,317.37 133.98,317.40 134.22,317.43 134.47,317.46 134.72,317.49 134.96,317.52 135.21,317.55 135.46,317.58 135.70,317.60 135.95,317.63 136.20,317.66 136.44,317.68 136.69,317.71 136.94,317.73 137.18,317.75 137.43,317.78 137.68,317.80 137.92,317.82 138.17,317.85 138.42,317.87 138.66,317.89 138.91,317.91 139.16,317.93 139.41,317.95 139.65,317.97 139.90,317.99 140.15,318.01 140.39,318.03 140.64,318.05 140.89,318.07 141.13,318.08 141.38,318.10 141.63,318.12 141.87,318.14 142.12,318.15 142.37,318.17 142.61,318.19 142.86,318.20 143.11,318.22 143.35,318.24 143.60,318.25 143.85,318.27 144.09,318.28 144.34,318.30 144.59,318.32 144.83,318.33 145.08,318.35 145.33,318.36 145.57,318.38 145.82,318.39 146.07,318.41 146.31,318.42 146.56,318.44 146.81,318.45 147.05,318.47 147.30,318.48 147.55,318.50 147.79,318.51 148.04,318.53 148.29,318.54 148.53,318.55 148.78,318.57 149.03,318.58 149.27,318.60 149.52,318.61 149.77,318.62 150.01,318.63 150.26,318.65 150.51,318.66 150.75,318.67 151.00,318.68 151.25,318.70 151.50,318.71 151.74,318.72 151.99,318.73 152.24,318.74 152.48,318.75 152.73,318.76 152.98,318.77 153.22,318.78 153.47,318.79 153.72,318.80 153.96,318.81 154.21,318.82 154.46,318.83 154.70,318.83 154.95,318.84 155.20,318.85 155.44,318.86 155.69,318.86 155.94,318.87 156.18,318.88 156.43,318.88 156.68,318.89 156.92,318.89 157.17,318.90" fill="none" stroke="#ffab2e" stroke-width="1.1"  stroke-linejoin="round" />
<polyline points="34.05,317.60 34.30,317.56 34.54,317.51 34.79,317.46 35.04,317.41 35.28,317.36 35.53,317.31 35.78,317.25 36.02,317.20 36.27,317.14 36.52,317.08 36.76,317.02 37.01,316.95 37.26,316.89 37.50,316.82 37.75,316.75 38.00,316.68 38.24,316.61 38.49,316.53 38.74,316.46 38.98,316.38 39.23,316.30 39.48,316.23 39.72,316.15 39.97,316.06 40.22,315.98 40.47,315.90 40.71,315.81 40.96,315.72 41.21,315.64 41.45,315.55 41.70,315.46 41.95,315.37 42.19,315.28 42.44,315.18 42.69,315.09 42.93,314.99 43.18,314.90 43.43,314.80 43.67,314.70 43.92,314.61 44.17,314.51 44.41,314.41 44.66,314.31 44.91,314.21 45.15,314.11 45.40,314.00 45.65,313.90 45.89,313.79 46.14,313.68 46.39,313.56 46.63,313.45 46.88,313.33 47.13,313.21 47.37,313.09 47.62,312.97 47.87,312.84 48.11,312.71 48.36,312.58 48.61,312.45 48.85,312.32 49.10,312.18 49.35,312.04 49.59,311.90 49.84,311.76 50.09,311.62 50.33,311.47 50.58,311.32 50.83,311.17 51.07,311.02 51.32,310.87 51.57,310.71 51.81,310.55 52.06,310.40 52.31,310.23 52.56,310.07 52.80,309.91 53.05,309.74 53.30,309.57 53.54,309.40 53.79,309.23 54.04,309.05 54.28,308.88 54.53,308.70 54.78,308.52 55.02,308.34 55.27,308.16 55.52,307.97 55.76,307.79 56.01,307.60 56.26,307.41 56.50,307.21 56.75,307.01 57.00,306.80 57.24,306.59 57.49,306.38 57.74,306.16 57.98,305.94 58.23,305.71 58.48,305.48 58.72,305.25 58.97,305.01 59.22,304.77 59.46,304.52 59.71,304.27 59.96,304.02 60.20,303.76 60.45,303.50 60.70,303.24 60.94,302.98 61.19,302.71 61.44,302.44 61.68,302.17 61.93,301.89 62.18,301.61 62.42,301.33 62.67,301.05 62.92,300.77 63.16,300.48 63.41,300.19 63.66,299.90 63.90,299.61 64.15,299.32 64.40,299.02 64.64,298.73 64.89,298.43 65.14,298.13 65.39,297.83 65.63,297.53 65.88,297.23 66.13,296.93 66.37,296.63 66.62,296.32 66.87,296.02 67.11,295.71 67.36,295.40 67.61,295.08 67.85,294.76 68.10,294.43 68.35,294.10 68.59,293.76 68.84,293.42 69.09,293.07 69.33,292.73 69.58,292.37 69.83,292.02 70.07,291.66 70.32,291.30 70.57,290.94 70.81,290.58 71.06,290.21 71.31,289.85 71.55,289.48 71.80,289.12 72.05,288.75 72.29,288.39 72.54,288.02 72.79,287.66 73.03,287.30 73.28,286.94 73.53,286.58 73.77,286.23 74.02,285.87 74.27,285.52 74.51,285.16 74.76,284.81 75.01,284.45 75.25,284.10 75.50,283.74 75.75,283.38 75.99,283.03 76.24,282.67 76.49,282.31 76.73,281.94 76.98,281.58 77.23,281.21 77.48,280.85 77.72,280.48 77.97,280.10 78.22,279.73 78.46,279.35 78.71,278.98 78.96,278.60 79.20,278.22 79.45,277.85 79.70,277.47 79.94,277.09 80.19,276.70 80.44,276.32 80.68,275.93 80.93,275.53 81.18,275.14 81.42,274.73 81.67,274.33 81.92,273.92 82.16,273.50 82.41,273.08 82.66,272.65 82.90,272.21 83.15,271.77 83.40,271.33 83.64,270.88 83.89,270.43 84.14,269.97 84.38,269.51 84.63,269.05 84.88,268.58 85.12,268.11 85.37,267.63 85.62,267.15 85.86,266.66 86.11,266.17 86.36,265.67 86.60,265.17 86.85,264.67 87.10,264.16 87.34,263.65 87.59,263.13 87.84,262.60 88.08,262.07 88.33,261.54 88.58,261.00 88.82,260.45 89.07,259.90 89.32,259.34 89.57,258.74 89.81,258.10 90.06,257.43 90.31,256.73 90.55,256.03 90.80,255.32 91.05,254.62 91.29,253.94 91.54,253.29 91.79,252.68 92.03,252.13 92.28,251.63 92.53,251.21 92.77,250.82 93.02,250.43 93.27,250.04 93.51,249.67 93.76,249.33 94.01,249.05 94.25,248.82 94.50,248.67 94.75,248.60 94.99,248.62 95.24,248.69 95.49,248.81 95.73,248.96 95.98,249.15 96.23,249.37 96.47,249.61 96.72,249.86 96.97,250.12 97.21,250.39 97.46,250.74 97.71,251.15 97.95,251.63 98.20,252.15 98.45,252.72 98.69,253.33 98.94,253.98 99.19,254.65 99.43,255.33 99.68,256.03 99.93,256.74 100.17,257.44 100.42,258.18 100.67,258.97 100.91,259.80 101.16,260.67 101.41,261.58 101.65,262.51 101.90,263.48 102.15,264.47 102.40,265.47 102.64,266.50 102.89,267.53 103.14,268.57 103.38,269.61 103.63,270.65 103.88,271.68 104.12,272.71 104.37,273.72 104.62,274.71 104.86,275.69 105.11,276.68 105.36,277.68 105.60,278.69 105.85,279.70 106.10,280.72 106.34,281.74 106.59,282.76 106.84,283.78 107.08,284.80 107.33,285.81 107.58,286.82 107.82,287.83 108.07,288.83 108.32,289.82 108.56,290.80 108.81,291.76 109.06,292.73 109.30,293.71 109.55,294.72 109.80,295.75 110.04,296.78 110.29,297.80 110.54,298.81 110.78,299.79 111.03,300.74 111.28,301.64 111.52,302.48 111.77,303.26 112.02,303.96 112.26,304.58 112.51,305.15 112.76,305.70 113.00,306.22 113.25,306.73 113.50,307.21 113.74,307.67 113.99,308.10 114.24,308.51 114.49,308.89 114.73,309.24 114.98,309.58 115.23,309.88 115.47,310.16 115.72,310.41 115.97,310.66 116.21,310.89 116.46,311.12 116.71,311.35 116.95,311.56 117.20,311.77 117.45,311.96 117.69,312.15 117.94,312.34 118.19,312.51 118.43,312.68 118.68,312.85 118.93,313.00 119.17,313.15 119.42,313.29 119.67,313.43 119.91,313.56 120.16,313.68 120.41,313.80 120.65,313.91 120.90,314.02 121.15,314.13 121.39,314.23 121.64,314.33 121.89,314.43 122.13,314.53 122.38,314.62 122.63,314.72 122.87,314.81 123.12,314.90 123.37,314.99 123.61,315.08 123.86,315.17 124.11,315.25 124.35,315.33 124.60,315.42 124.85,315.50 125.09,315.57 125.34,315.65 125.59,315.73 125.83,315.80 126.08,315.87 126.33,315.94 126.58,316.01 126.82,316.08 127.07,316.15 127.32,316.21 127.56,316.27 127.81,316.33 128.06,316.39 128.30,316.45 128.55,316.51 128.80,316.56 129.04,316.62 129.29,316.67 129.54,316.72 129.78,316.77 130.03,316.81 130.28,316.86 130.52,316.91 130.77,316.95 131.02,316.99 131.26,317.03 131.51,317.07 131.76,317.10 132.00,317.14 132.25,317.18 132.50,317.21 132.74,317.24 132.99,317.28 133.24,317.31 133.48,317.34 133.73,317.37 133.98,317.40 134.22,317.43 134.47,317.46 134.72,317.49 134.96,317.52 135.21,317.55 135.46,317.58 135.70,317.60 135.95,317.63 136.20,317.66 136.44,317.68 136.69,317.71 136.94,317.73 137.18,317.75 137.43,317.78 137.68,317.80 137.92,317.82 138.17,317.85 138.42,317.87 138.66,317.89 138.91,317.91 139.16,317.93 139.41,317.95 139.65,317.97 139.90,317.99 140.15,318.01 140.39,318.03 140.64,318.05 140.89,318.07 141.13,318.08 141.38,318.10 141.63,318.12 141.87,318.14 142.12,318.15 142.37,318.17 142.61,318.19 142.86,318.20 143.11,318.22 143.35,318.24 143.60,318.25 143.85,318.27 144.09,318.28 144.34,318.30 144.59,318.32 144.83,318.33 145.08,318.35 145.33,318.36 145.57,318.38 145.82,318.39 146.07,318.41 146.31,318.42 146.56,318.44 146.81,318.45 147.05,318.47 147.30,318.48 147.55,318.50 147.79,318.51 148.04,318.53 148.29,318.54 148.53,318.55 148.78,318.57 149.03,318.58 149.27,318.60 149.52,318.61 149.77,318.62 150.01,318.63 150.26,318.65 150.51,318.66 150.75,318.67 151.00,318.68 151.25,318.70 151.50,318.71 151.74,318.72 151.99,318.73 152.24,318.74 152.48,318.75 152.73,318.76 152.98,318.77 153.22,318.78 153.47,318.79 153.72,318.80 153.96,318.81 154.21,318.82 154.46,318.83 154.70,318.83 154.95,318.84 155.20,318.85 155.44,318.86 155.69,318.86 155.94,318.87 156.18,318.88 156.43,318.88 156.68,318.89 156.92,318.89 157.17,318.90" fill="none" stroke="#f21c1c" stroke-width="1.1"  stroke-linejoin="round" />
<polyline points="34.05,320.20 34.30,320.20 34.54,320.20 34.79,320.20 35.04,320.20 35.28,320.19 35.53,320.19 35.78,320.19 36.02,320.18 36.27,320.18 36.52,320.18 36.76,320.17 37.01,320.16 37.26,320.16 37.50,320.15 37.75,320.14 38.00,320.14 38.24,320.13 38.49,320.12 38.74,320.11 38.98,320.10 39.23,320.09 39.48,320.08 39.72,320.07 39.97,320.06 40.22,320.05 40.47,320.04 40.71,320.03 40.96,320.01 41.21,320.00 41.45,319.99 41.70,319.97 41.95,319.96 42.19,319.94 42.44,319.93 42.69,319.91 42.93,319.90 43.18,319.88 43.43,319.87 43.67,319.85 43.92,319.83 44.17,319.81 44.41,319.80 44.66,319.78 44.91,319.76 45.15,319.74 45.40,319.72 45.65,319.70 45.89,319.68 46.14,319.66 46.39,319.64 46.63,319.62 46.88,319.60 47.13,319.57 47.37,319.55 47.62,319.53 47.87,319.51 48.11,319.48 48.36,319.46 48.61,319.44 48.85,319.41 49.10,319.39 49.35,319.36 49.59,319.34 49.84,319.31 50.09,319.29 50.33,319.26 50.58,319.24 50.83,319.21 51.07,319.18 51.32,319.16 51.57,319.13 51.81,319.10 52.06,319.07 52.31,319.05 52.56,319.02 52.80,318.99 53.05,318.96 53.30,318.93 53.54,318.90 53.79,318.87 54.04,318.84 54.28,318.81 54.53,318.78 54.78,318.75 55.02,318.72 55.27,318.69 55.52,318.66 55.76,318.63 56.01,318.60 56.26,318.57 56.50,318.53 56.75,318.50 57.00,318.47 57.24,318.43 57.49,318.39 57.74,318.35 57.98,318.31 58.23,318.27 58.48,318.22 58.72,318.18 58.97,318.13 59.22,318.08 59.46,318.03 59.71,317.97 59.96,317.92 60.20,317.86 60.45,317.80 60.70,317.73 60.94,317.67 61.19,317.60 61.44,317.53 61.68,317.46 61.93,317.38 62.18,317.31 62.42,317.23 62.67,317.14 62.92,317.05 63.16,316.97 63.41,316.87 63.66,316.78 63.90,316.68 64.15,316.57 64.40,316.47 64.64,316.36 64.89,316.25 65.14,316.13 65.39,316.01 65.63,315.89 65.88,315.76 66.13,315.63 66.37,315.49 66.62,315.35 66.87,315.21 67.11,315.05 67.36,314.85 67.61,314.62 67.85,314.35 68.10,314.05 68.35,313.71 68.59,313.35 68.84,312.95 69.09,312.51 69.33,312.05 69.58,311.55 69.83,311.03 70.07,310.47 70.32,309.89 70.57,309.28 70.81,308.64 71.06,307.97 71.31,307.25 71.55,306.36 71.80,305.29 72.05,304.06 72.29,302.70 72.54,301.23 72.79,299.66 73.03,298.02 73.28,296.34 73.53,294.46 73.77,292.34 74.02,290.03 74.27,287.57 74.51,285.01 74.76,282.40 75.01,279.80 75.25,277.25 75.50,274.79 75.75,272.29 75.99,269.63 76.24,266.88 76.49,264.12 76.73,261.44 76.98,258.92 77.23,256.63 77.48,254.66 77.72,253.09 77.97,251.79 78.22,250.53 78.46,249.44 78.71,248.65 78.96,248.31 79.20,248.46 79.45,248.99 79.70,249.81 79.94,250.79 80.19,251.87 80.44,253.17 80.68,254.99 80.93,257.15 81.18,259.48 81.42,261.83 81.67,264.01 81.92,266.13 82.16,268.31 82.41,270.53 82.66,272.74 82.90,274.91 83.15,277.01 83.40,279.00 83.64,280.84 83.89,282.55 84.14,284.22 84.38,285.83 84.63,287.39 84.88,288.88 85.12,290.30 85.37,291.64 85.62,292.90 85.86,294.05 86.11,295.12 86.36,296.16 86.60,297.18 86.85,298.17 87.10,299.12 87.34,300.04 87.59,300.92 87.84,301.75 88.08,302.53 88.33,303.25 88.58,303.92 88.82,304.52 89.07,305.06 89.32,305.53 89.57,305.96 89.81,306.39 90.06,306.80 90.31,307.20 90.55,307.59 90.80,307.97 91.05,308.34 91.29,308.69 91.54,309.03 91.79,309.36 92.03,309.68 92.28,309.98 92.53,310.27 92.77,310.55 93.02,310.82 93.27,311.08 93.51,311.32 93.76,311.55 94.01,311.77 94.25,311.98 94.50,312.17 94.75,312.35 94.99,312.52 95.24,312.68 95.49,312.83 95.73,312.96 95.98,313.08 96.23,313.20 96.47,313.32 96.72,313.43 96.97,313.54 97.21,313.65 97.46,313.76 97.71,313.86 97.95,313.96 98.20,314.05 98.45,314.15 98.69,314.24 98.94,314.33 99.19,314.42 99.43,314.50 99.68,314.59 99.93,314.67 100.17,314.75 100.42,314.82 100.67,314.90 100.91,314.97 101.16,315.04 101.41,315.11 101.65,315.18 101.90,315.24 102.15,315.31 102.40,315.37 102.64,315.43 102.89,315.49 103.14,315.55 103.38,315.61 103.63,315.66 103.88,315.72 104.12,315.77 104.37,315.82 104.62,315.87 104.86,315.92 105.11,315.97 105.36,316.02 105.60,316.06 105.85,316.11 106.10,316.16 106.34,316.20 106.59,316.25 106.84,316.29 107.08,316.33 107.33,316.38 107.58,316.42 107.82,316.46 108.07,316.50 108.32,316.54 108.56,316.58 108.81,316.63 109.06,316.67 109.30,316.71 109.55,316.75 109.80,316.78 110.04,316.82 110.29,316.86 110.54,316.90 110.78,316.94 111.03,316.98 111.28,317.01 111.52,317.05 111.77,317.09 112.02,317.12 112.26,317.16 112.51,317.19 112.76,317.23 113.00,317.26 113.25,317.30 113.50,317.33 113.74,317.36 113.99,317.40 114.24,317.43 114.49,317.46 114.73,317.49 114.98,317.52 115.23,317.56 115.47,317.59 115.72,317.62 115.97,317.65 116.21,317.68 116.46,317.71 116.71,317.74 116.95,317.76 117.20,317.79 117.45,317.82 117.69,317.85 117.94,317.88 118.19,317.90 118.43,317.93 118.68,317.96 118.93,317.98 119.17,318.01 119.42,318.03 119.67,318.06 119.91,318.08 120.16,318.11 120.41,318.13 120.65,318.15 120.90,318.18 121.15,318.20 121.39,318.22 121.64,318.24 121.89,318.26 122.13,318.29 122.38,318.31 122.63,318.33 122.87,318.35 123.12,318.37 123.37,318.39 123.61,318.41 123.86,318.43 124.11,318.44 124.35,318.46 124.60,318.48 124.85,318.50 125.09,318.52 125.34,318.53 125.59,318.55 125.83,318.56 126.08,318.58 126.33,318.60 126.58,318.61 126.82,318.63 127.07,318.64 127.32,318.66 127.56,318.67 127.81,318.69 128.06,318.70 128.30,318.71 128.55,318.73 128.80,318.74 129.04,318.76 129.29,318.77 129.54,318.78 129.78,318.80 130.03,318.81 130.28,318.82 130.52,318.84 130.77,318.85 131.02,318.86 131.26,318.88 131.51,318.89 131.76,318.90 132.00,318.91 132.25,318.93 132.50,318.94 132.74,318.95 132.99,318.96 133.24,318.97 133.48,318.98 133.73,319.00 133.98,319.01 134.22,319.02 134.47,319.03 134.72,319.04 134.96,319.05 135.21,319.06 135.46,319.07 135.70,319.08 135.95,319.09 136.20,319.10 136.44,319.11 136.69,319.12 136.94,319.13 137.18,319.14 137.43,319.15 137.68,319.16 137.92,319.16 138.17,319.17 138.42,319.18 138.66,319.19 138.91,319.20 139.16,319.20 139.41,319.21 139.65,319.22 139.90,319.23 140.15,319.23 140.39,319.24 140.64,319.25 140.89,319.25 141.13,319.26 141.38,319.27 141.63,319.27 141.87,319.28 142.12,319.29 142.37,319.29 142.61,319.30 142.86,319.30 143.11,319.31 143.35,319.31 143.60,319.32 143.85,319.32 144.09,319.33 144.34,319.33 144.59,319.34 144.83,319.34 145.08,319.35 145.33,319.35 145.57,319.36 145.82,319.36 146.07,319.37 146.31,319.37 146.56,319.38 146.81,319.38 147.05,319.39 147.30,319.39 147.55,319.39 147.79,319.40 148.04,319.40 148.29,319.41 148.53,319.41 148.78,319.42 149.03,319.42 149.27,319.42 149.52,319.43 149.77,319.43 150.01,319.44 150.26,319.44 150.51,319.44 150.75,319.45 151.00,319.45 151.25,319.45 151.50,319.46 151.74,319.46 151.99,319.46 152.24,319.47 152.48,319.47 152.73,319.47 152.98,319.48 153.22,319.48 153.47,319.48 153.72,319.48 153.96,319.49 154.21,319.49 154.46,319.49 154.70,319.49 154.95,319.49 155.20,319.49 155.44,319.50 155.69,319.50 155.94,319.50 156.18,319.50 156.43,319.50 156.68,319.50 156.92,319.50 157.17,319.50" fill="none" stroke="#2626d0" stroke-width="1.1"  stroke-linejoin="round" />
<polyline points="34.05,319.60 34.30,319.60 34.54,319.60 34.79,319.60 35.04,319.60 35.28,319.60 35.53,319.59 35.78,319.59 36.02,319.59 36.27,319.59 36.52,319.58 36.76,319.58 37.01,319.58 37.26,319.57 37.50,319.57 37.75,319.56 38.00,319.56 38.24,319.55 38.49,319.55 38.74,319.54 38.98,319.53 39.23,319.53 39.48,319.52 39.72,319.51 39.97,319.51 40.22,319.50 40.47,319.49 40.71,319.48 40.96,319.48 41.21,319.47 41.45,319.46 41.70,319.45 41.95,319.44 42.19,319.43 42.44,319.42 42.69,319.41 42.93,319.40 43.18,319.39 43.43,319.38 43.67,319.37 43.92,319.36 44.17,319.34 44.41,319.33 44.66,319.32 44.91,319.31 45.15,319.30 45.40,319.28 45.65,319.27 45.89,319.26 46.14,319.25 46.39,319.23 46.63,319.22 46.88,319.21 47.13,319.19 47.37,319.18 47.62,319.16 47.87,319.15 48.11,319.13 48.36,319.12 48.61,319.10 48.85,319.09 49.10,319.07 49.35,319.06 49.59,319.04 49.84,319.03 50.09,319.01 50.33,319.00 50.58,318.98 50.83,318.96 51.07,318.95 51.32,318.93 51.57,318.91 51.81,318.90 52.06,318.88 52.31,318.86 52.56,318.85 52.80,318.83 53.05,318.81 53.30,318.80 53.54,318.78 53.79,318.76 54.04,318.74 54.28,318.73 54.53,318.71 54.78,318.69 55.02,318.67 55.27,318.65 55.52,318.64 55.76,318.62 56.01,318.60 56.26,318.58 56.50,318.56 56.75,318.54 57.00,318.52 57.24,318.51 57.49,318.49 57.74,318.47 57.98,318.44 58.23,318.42 58.48,318.40 58.72,318.38 58.97,318.36 59.22,318.33 59.46,318.31 59.71,318.28 59.96,318.25 60.20,318.23 60.45,318.20 60.70,318.17 60.94,318.14 61.19,318.11 61.44,318.08 61.68,318.04 61.93,318.01 62.18,317.97 62.42,317.94 62.67,317.90 62.92,317.86 63.16,317.82 63.41,317.78 63.66,317.73 63.90,317.69 64.15,317.64 64.40,317.59 64.64,317.54 64.89,317.49 65.14,317.43 65.39,317.38 65.63,317.32 65.88,317.26 66.13,317.20 66.37,317.14 66.62,317.07 66.87,317.00 67.11,316.93 67.36,316.85 67.61,316.77 67.85,316.67 68.10,316.56 68.35,316.43 68.59,316.30 68.84,316.15 69.09,315.98 69.33,315.80 69.58,315.60 69.83,315.38 70.07,315.13 70.32,314.87 70.57,314.59 70.81,314.28 71.06,313.94 71.31,313.58 71.55,313.19 71.80,312.77 72.05,312.33 72.29,311.81 72.54,310.66 72.79,308.78 73.03,306.30 73.28,303.33 73.53,299.97 73.77,296.36 74.02,292.60 74.27,288.81 74.51,285.09 74.76,280.62 75.01,275.34 75.25,269.80 75.50,264.55 75.75,260.16 75.99,257.06 76.24,254.32 76.49,251.80 76.73,249.78 76.98,248.55 77.23,248.37 77.48,249.32 77.72,251.13 77.97,253.53 78.22,256.23 78.46,259.09 78.71,263.12 78.96,268.16 79.20,273.67 79.45,279.09 79.70,283.86 79.94,287.69 80.19,291.42 80.44,295.10 80.68,298.57 80.93,301.70 81.18,304.35 81.42,306.38 81.67,307.65 81.92,308.51 82.16,309.33 82.41,310.10 82.66,310.83 82.90,311.52 83.15,312.16 83.40,312.76 83.64,313.33 83.89,313.85 84.14,314.33 84.38,314.77 84.63,315.18 84.88,315.55 85.12,315.89 85.37,316.19 85.62,316.46 85.86,316.70 86.11,316.91 86.36,317.08 86.60,317.23 86.85,317.35 87.10,317.44 87.34,317.52 87.59,317.60 87.84,317.68 88.08,317.76 88.33,317.83 88.58,317.90 88.82,317.96 89.07,318.03 89.32,318.09 89.57,318.15 89.81,318.20 90.06,318.26 90.31,318.31 90.55,318.36 90.80,318.41 91.05,318.45 91.29,318.49 91.54,318.53 91.79,318.57 92.03,318.61 92.28,318.65 92.53,318.68 92.77,318.71 93.02,318.74 93.27,318.77 93.51,318.80 93.76,318.82 94.01,318.85 94.25,318.87 94.50,318.90 94.75,318.92 94.99,318.94 95.24,318.96 95.49,318.98 95.73,318.99 95.98,319.01 96.23,319.03 96.47,319.05 96.72,319.06 96.97,319.08 97.21,319.10 97.46,319.11 97.71,319.13 97.95,319.14 98.20,319.16 98.45,319.17 98.69,319.19 98.94,319.21 99.19,319.22 99.43,319.23 99.68,319.25 99.93,319.26 100.17,319.28 100.42,319.29 100.67,319.31 100.91,319.32 101.16,319.33 101.41,319.35 101.65,319.36 101.90,319.37 102.15,319.38 102.40,319.40 102.64,319.41 102.89,319.42 103.14,319.43 103.38,319.44 103.63,319.46 103.88,319.47 104.12,319.48 104.37,319.49 104.62,319.50 104.86,319.51 105.11,319.52 105.36,319.53 105.60,319.54 105.85,319.55 106.10,319.56 106.34,319.57 106.59,319.58 106.84,319.59 107.08,319.60 107.33,319.61 107.58,319.61 107.82,319.62 108.07,319.63 108.32,319.64 108.56,319.65 108.81,319.65 109.06,319.66 109.30,319.67 109.55,319.68 109.80,319.68 110.04,319.69 110.29,319.70 110.54,319.70 110.78,319.71 111.03,319.71 111.28,319.72 111.52,319.73 111.77,319.73 112.02,319.74 112.26,319.74 112.51,319.75 112.76,319.75 113.00,319.76 113.25,319.76 113.50,319.77 113.74,319.77 113.99,319.77 114.24,319.78 114.49,319.78 114.73,319.78 114.98,319.79 115.23,319.79 115.47,319.79 115.72,319.80 115.97,319.80 116.21,319.80 116.46,319.80 116.71,319.81 116.95,319.81 117.20,319.81 117.45,319.81 117.69,319.81 117.94,319.82 118.19,319.82 118.43,319.82 118.68,319.82 118.93,319.83 119.17,319.83 119.42,319.83 119.67,319.83 119.91,319.83 120.16,319.84 120.41,319.84 120.65,319.84 120.90,319.84 121.15,319.84 121.39,319.85 121.64,319.85 121.89,319.85 122.13,319.85 122.38,319.86 122.63,319.86 122.87,319.86 123.12,319.86 123.37,319.86 123.61,319.87 123.86,319.87 124.11,319.87 124.35,319.87 124.60,319.87 124.85,319.87 125.09,319.88 125.34,319.88 125.59,319.88 125.83,319.88 126.08,319.88 126.33,319.89 126.58,319.89 126.82,319.89 127.07,319.89 127.32,319.89 127.56,319.89 127.81,319.90 128.06,319.90 128.30,319.90 128.55,319.90 128.80,319.90 129.04,319.90 129.29,319.91 129.54,319.91 129.78,319.91 130.03,319.91 130.28,319.91 130.52,319.91 130.77,319.92 131.02,319.92 131.26,319.92 131.51,319.92 131.76,319.92 132.00,319.92 132.25,319.92 132.50,319.93 132.74,319.93 132.99,319.93 133.24,319.93 133.48,319.93 133.73,319.93 133.98,319.93 134.22,319.94 134.47,319.94 134.72,319.94 134.96,319.94 135.21,319.94 135.46,319.94 135.70,319.94 135.95,319.95 136.20,319.95 136.44,319.95 136.69,319.95 136.94,319.95 137.18,319.95 137.43,319.95 137.68,319.95 137.92,319.95 138.17,319.96 138.42,319.96 138.66,319.96 138.91,319.96 139.16,319.96 139.41,319.96 139.65,319.96 139.90,319.96 140.15,319.96 140.39,319.97 140.64,319.97 140.89,319.97 141.13,319.97 141.38,319.97 141.63,319.97 141.87,319.97 142.12,319.97 142.37,319.97 142.61,319.97 142.86,319.97 143.11,319.98 143.35,319.98 143.60,319.98 143.85,319.98 144.09,319.98 144.34,319.98 144.59,319.98 144.83,319.98 145.08,319.98 145.33,319.98 145.57,319.98 145.82,319.98 146.07,319.98 146.31,319.99 146.56,319.99 146.81,319.99 147.05,319.99 147.30,319.99 147.55,319.99 147.79,319.99 148.04,319.99 148.29,319.99 148.53,319.99 148.78,319.99 149.03,319.99 149.27,319.99 149.52,319.99 149.77,319.99 150.01,319.99 150.26,319.99 150.51,319.99 150.75,319.99 151.00,320.00 151.25,320.00 151.50,320.00 151.74,320.00 151.99,320.00 152.24,320.00 152.48,320.00 152.73,320.00 152.98,320.00 153.22,320.00 153.47,320.00 153.72,320.00 153.96,320.00 154.21,320.00 154.46,320.00 154.70,320.00 154.95,320.00 155.20,320.00 155.44,320.00 155.69,320.00 155.94,320.00 156.18,320.00 156.43,320.00 156.68,320.00 156.92,320.00 157.17,320.00" fill="none" stroke="#7a6418" stroke-width="1.1"  stroke-linejoin="round" />
<line x1="117.2" y1="250.60" x2="134.7" y2="250.60" stroke="#1a1a1a" stroke-width="1.0" stroke-dasharray="3.1,5.3"/>
<text x="139.80" y="254.00" font-size="8.9" text-anchor="start" fill="#000" font-weight="normal" >H<tspan dy="2.0" font-size="6.2">2</tspan><tspan dy="-2.0">O</tspan></text>
<line x1="117.2" y1="263.45" x2="134.7" y2="263.45" stroke="#2626d0" stroke-width="1.0" />
<text x="139.80" y="266.85" font-size="8.9" text-anchor="start" fill="#000" font-weight="normal" >Li<tspan dy="-3.4" font-size="6.2">+</tspan></text>
<line x1="117.2" y1="276.30" x2="134.7" y2="276.30" stroke="#7a6418" stroke-width="1.0" />
<text x="139.80" y="279.70" font-size="8.9" text-anchor="start" fill="#000" font-weight="normal" >Na<tspan dy="-3.4" font-size="6.2">+</tspan></text>
<line x1="117.2" y1="289.15" x2="134.7" y2="289.15" stroke="#ffab2e" stroke-width="1.0" />
<text x="139.80" y="292.55" font-size="8.9" text-anchor="start" fill="#000" font-weight="normal" >K<tspan dy="-3.4" font-size="6.2">+</tspan></text>
<line x1="117.2" y1="302.00" x2="134.7" y2="302.00" stroke="#f21c1c" stroke-width="1.0" />
<text x="139.80" y="305.40" font-size="8.9" text-anchor="start" fill="#000" font-weight="normal" >Cs<tspan dy="-3.4" font-size="6.2">+</tspan></text>
<rect x="202.30" y="241.10" width="124.30" height="85.90" fill="none" stroke="#262626" stroke-width="1.1"/>
<text x="202.50" y="340.30" font-size="11.6" text-anchor="middle" fill="#000" font-weight="normal" >4</text>
<line x1="223.17" y1="327.00" x2="223.17" y2="324.20" stroke="#262626" stroke-width="1" />
<text x="223.17" y="340.30" font-size="11.6" text-anchor="middle" fill="#000" font-weight="normal" >5</text>
<line x1="243.84" y1="327.00" x2="243.84" y2="324.20" stroke="#262626" stroke-width="1" />
<text x="243.84" y="340.30" font-size="11.6" text-anchor="middle" fill="#000" font-weight="normal" >6</text>
<line x1="264.51" y1="327.00" x2="264.51" y2="324.20" stroke="#262626" stroke-width="1" />
<text x="264.51" y="340.30" font-size="11.6" text-anchor="middle" fill="#000" font-weight="normal" >7</text>
<line x1="285.18" y1="327.00" x2="285.18" y2="324.20" stroke="#262626" stroke-width="1" />
<text x="285.18" y="340.30" font-size="11.6" text-anchor="middle" fill="#000" font-weight="normal" >8</text>
<line x1="305.85" y1="327.00" x2="305.85" y2="324.20" stroke="#262626" stroke-width="1" />
<text x="305.85" y="340.30" font-size="11.6" text-anchor="middle" fill="#000" font-weight="normal" >9</text>
<text x="326.52" y="340.30" font-size="11.6" text-anchor="middle" fill="#000" font-weight="normal" >10</text>
<line x1="206.72" y1="241.10" x2="206.72" y2="243.90" stroke="#262626" stroke-width="1" />
<text x="206.72" y="235.80" font-size="11.6" text-anchor="middle" fill="#000" font-weight="normal" >21</text>
<line x1="221.21" y1="241.10" x2="221.21" y2="243.90" stroke="#262626" stroke-width="1" />
<text x="221.21" y="235.80" font-size="11.6" text-anchor="middle" fill="#000" font-weight="normal" >18</text>
<line x1="241.51" y1="241.10" x2="241.51" y2="243.90" stroke="#262626" stroke-width="1" />
<text x="241.51" y="235.80" font-size="11.6" text-anchor="middle" fill="#000" font-weight="normal" >15</text>
<line x1="271.97" y1="241.10" x2="271.97" y2="243.90" stroke="#262626" stroke-width="1" />
<text x="271.97" y="235.80" font-size="11.6" text-anchor="middle" fill="#000" font-weight="normal" >12</text>
<line x1="322.79" y1="241.10" x2="322.79" y2="243.90" stroke="#262626" stroke-width="1" />
<text x="322.79" y="235.80" font-size="11.6" text-anchor="middle" fill="#000" font-weight="normal" >9</text>
<text x="264.80" y="352.40" font-size="12" text-anchor="middle" fill="#000" font-weight="normal" >2θ (°)</text>
<text x="264.80" y="220.90" font-size="11.7" text-anchor="middle" fill="#000" font-weight="normal" textLength="108.8" lengthAdjust="spacingAndGlyphs" >Interlayer spacing (Å)</text>
<text x="187.60" y="221.40" font-size="12" text-anchor="start" fill="#000" font-weight="bold" stroke="#000" stroke-width="0.35">d</text>
<text transform="translate(193.00,284.75) rotate(-90)" x="0" y="0" font-size="13.2" text-anchor="middle" fill="#000" textLength="96.4" lengthAdjust="spacingAndGlyphs">Intensity (arb.u.)</text>
<polyline points="202.50,320.40 202.75,320.40 203.00,320.40 203.25,320.40 203.49,320.40 203.74,320.40 203.99,320.40 204.24,320.40 204.49,320.40 204.74,320.40 204.99,320.40 205.23,320.40 205.48,320.40 205.73,320.40 205.98,320.40 206.23,320.40 206.48,320.40 206.73,320.40 206.97,320.40 207.22,320.40 207.47,320.40 207.72,320.40 207.97,320.40 208.22,320.40 208.46,320.40 208.71,320.40 208.96,320.40 209.21,320.40 209.46,320.40 209.71,320.40 209.96,320.40 210.20,320.40 210.45,320.40 210.70,320.40 210.95,320.40 211.20,320.40 211.45,320.40 211.70,320.40 211.94,320.40 212.19,320.40 212.44,320.40 212.69,320.40 212.94,320.40 213.19,320.40 213.44,320.40 213.68,320.40 213.93,320.40 214.18,320.40 214.43,320.40 214.68,320.40 214.93,320.40 215.18,320.40 215.42,320.40 215.67,320.40 215.92,320.40 216.17,320.40 216.42,320.40 216.67,320.40 216.92,320.40 217.16,320.40 217.41,320.40 217.66,320.40 217.91,320.40 218.16,320.40 218.41,320.40 218.65,320.40 218.90,320.40 219.15,320.40 219.40,320.40 219.65,320.40 219.90,320.40 220.15,320.40 220.39,320.40 220.64,320.40 220.89,320.40 221.14,320.40 221.39,320.39 221.64,320.38 221.89,320.35 222.13,320.32 222.38,320.28 222.63,320.23 222.88,320.16 223.13,320.01 223.38,319.79 223.63,319.50 223.87,319.17 224.12,318.80 224.37,318.30 224.62,317.66 224.87,316.91 225.12,316.05 225.37,315.10 225.61,314.09 225.86,313.01 226.11,311.89 226.36,310.75 226.61,309.56 226.86,308.18 227.11,306.62 227.35,304.94 227.60,303.18 227.85,301.37 228.10,299.57 228.35,297.82 228.60,296.16 228.84,294.53 229.09,292.90 229.34,291.27 229.59,289.65 229.84,288.04 230.09,286.43 230.34,284.84 230.58,283.26 230.83,281.70 231.08,280.14 231.33,278.55 231.58,276.95 231.83,275.37 232.08,273.82 232.32,272.31 232.57,270.86 232.82,269.49 233.07,268.21 233.32,267.01 233.57,265.86 233.82,264.77 234.06,263.71 234.31,262.69 234.56,261.70 234.81,260.73 235.06,259.79 235.31,258.87 235.56,257.96 235.80,257.04 236.05,256.08 236.30,255.13 236.55,254.20 236.80,253.33 237.05,252.53 237.30,251.84 237.54,251.28 237.79,250.84 238.04,250.42 238.29,250.01 238.54,249.64 238.79,249.31 239.03,249.04 239.28,248.84 239.53,248.73 239.78,248.70 240.03,248.74 240.28,248.83 240.53,248.97 240.77,249.15 241.02,249.36 241.27,249.61 241.52,249.90 241.77,250.21 242.02,250.55 242.27,250.91 242.51,251.32 242.76,251.98 243.01,252.86 243.26,253.94 243.51,255.15 243.76,256.45 244.01,257.79 244.25,259.13 244.50,260.42 244.75,261.72 245.00,263.09 245.25,264.52 245.50,266.00 245.75,267.52 245.99,269.07 246.24,270.64 246.49,272.24 246.74,273.84 246.99,275.48 247.24,277.18 247.49,278.92 247.73,280.70 247.98,282.48 248.23,284.27 248.48,286.05 248.73,287.79 248.98,289.49 249.22,291.16 249.47,292.83 249.72,294.50 249.97,296.16 250.22,297.81 250.47,299.42 250.72,301.00 250.96,302.54 251.21,304.03 251.46,305.45 251.71,306.87 251.96,308.32 252.21,309.78 252.46,311.19 252.70,312.53 252.95,313.73 253.20,314.78 253.45,315.62 253.70,316.25 253.95,316.83 254.20,317.37 254.44,317.87 254.69,318.32 254.94,318.71 255.19,319.05 255.44,319.32 255.69,319.52 255.94,319.65 256.18,319.77 256.43,319.87 256.68,319.97 256.93,320.06 257.18,320.13 257.43,320.20 257.68,320.24 257.92,320.28 258.17,320.30 258.42,320.30 258.67,320.30 258.92,320.29 259.17,320.28 259.41,320.27 259.66,320.26 259.91,320.24 260.16,320.22 260.41,320.20 260.66,320.18 260.91,320.16 261.15,320.14 261.40,320.11 261.65,320.09 261.90,320.06 262.15,320.03 262.40,320.01 262.65,319.97 262.89,319.93 263.14,319.87 263.39,319.81 263.64,319.74 263.89,319.66 264.14,319.58 264.39,319.50 264.63,319.41 264.88,319.33 265.13,319.25 265.38,319.18 265.63,319.11 265.88,319.04 266.13,318.99 266.37,318.95 266.62,318.92 266.87,318.90 267.12,318.90 267.37,318.92 267.62,318.95 267.87,318.99 268.11,319.04 268.36,319.11 268.61,319.17 268.86,319.25 269.11,319.33 269.36,319.41 269.61,319.49 269.85,319.58 270.10,319.65 270.35,319.73 270.60,319.80 270.85,319.86 271.10,319.92 271.34,319.96 271.59,319.99 271.84,320.01 272.09,320.02 272.34,320.03 272.59,320.05 272.84,320.06 273.08,320.08 273.33,320.09 273.58,320.10 273.83,320.12 274.08,320.13 274.33,320.14 274.58,320.15 274.82,320.16 275.07,320.17 275.32,320.19 275.57,320.20 275.82,320.21 276.07,320.22 276.32,320.23 276.56,320.24 276.81,320.25 277.06,320.26 277.31,320.26 277.56,320.27 277.81,320.28 278.06,320.29 278.30,320.30 278.55,320.30 278.80,320.31 279.05,320.32 279.30,320.32 279.55,320.33 279.80,320.34 280.04,320.34 280.29,320.35 280.54,320.35 280.79,320.36 281.04,320.36 281.29,320.37 281.53,320.37 281.78,320.37 282.03,320.38 282.28,320.38 282.53,320.38 282.78,320.39 283.03,320.39 283.27,320.39 283.52,320.39 283.77,320.40 284.02,320.40 284.27,320.40 284.52,320.40 284.77,320.40 285.01,320.40 285.26,320.40 285.51,320.40 285.76,320.40 286.01,320.40 286.26,320.40 286.51,320.40 286.75,320.40 287.00,320.40 287.25,320.40 287.50,320.40 287.75,320.40 288.00,320.40 288.25,320.40 288.49,320.40 288.74,320.40 288.99,320.40 289.24,320.40 289.49,320.40 289.74,320.40 289.99,320.40 290.23,320.40 290.48,320.40 290.73,320.40 290.98,320.40 291.23,320.40 291.48,320.40 291.72,320.40 291.97,320.40 292.22,320.40 292.47,320.40 292.72,320.40 292.97,320.40 293.22,320.40 293.46,320.40 293.71,320.40 293.96,320.40 294.21,320.40 294.46,320.40 294.71,320.40 294.96,320.40 295.20,320.40 295.45,320.40 295.70,320.40 295.95,320.40 296.20,320.40 296.45,320.40 296.70,320.40 296.94,320.40 297.19,320.40 297.44,320.40 297.69,320.40 297.94,320.40 298.19,320.40 298.44,320.40 298.68,320.40 298.93,320.40 299.18,320.40 299.43,320.40 299.68,320.40 299.93,320.40 300.18,320.40 300.42,320.40 300.67,320.40 300.92,320.40 301.17,320.40 301.42,320.40 301.67,320.40 301.91,320.40 302.16,320.40 302.41,320.40 302.66,320.40 302.91,320.40 303.16,320.40 303.41,320.40 303.65,320.40 303.90,320.40 304.15,320.40 304.40,320.40 304.65,320.40 304.90,320.40 305.15,320.40 305.39,320.40 305.64,320.40 305.89,320.40 306.14,320.40 306.39,320.40 306.64,320.40 306.89,320.40 307.13,320.40 307.38,320.40 307.63,320.40 307.88,320.40 308.13,320.40 308.38,320.40 308.63,320.40 308.87,320.40 309.12,320.40 309.37,320.40 309.62,320.40 309.87,320.40 310.12,320.40 310.37,320.40 310.61,320.40 310.86,320.40 311.11,320.40 311.36,320.40 311.61,320.40 311.86,320.40 312.10,320.40 312.35,320.40 312.60,320.40 312.85,320.40 313.10,320.40 313.35,320.40 313.60,320.40 313.84,320.40 314.09,320.40 314.34,320.40 314.59,320.40 314.84,320.40 315.09,320.40 315.34,320.40 315.58,320.40 315.83,320.40 316.08,320.40 316.33,320.40 316.58,320.40 316.83,320.40 317.08,320.40 317.32,320.40 317.57,320.40 317.82,320.40 318.07,320.40 318.32,320.40 318.57,320.40 318.82,320.40 319.06,320.40 319.31,320.40 319.56,320.40 319.81,320.40 320.06,320.40 320.31,320.40 320.56,320.40 320.80,320.40 321.05,320.40 321.30,320.40 321.55,320.40 321.80,320.40 322.05,320.40 322.29,320.40 322.54,320.40 322.79,320.40 323.04,320.40 323.29,320.40 323.54,320.40 323.79,320.40 324.03,320.40 324.28,320.40 324.53,320.40 324.78,320.40 325.03,320.40 325.28,320.40 325.53,320.40 325.77,320.40 326.02,320.40 326.27,320.40 326.52,320.40" fill="none" stroke="#28466a" stroke-width="1.1"  stroke-linejoin="round" />
<polyline points="202.50,320.40 202.75,320.40 203.00,320.40 203.25,320.40 203.49,320.40 203.74,320.40 203.99,320.40 204.24,320.40 204.49,320.40 204.74,320.40 204.99,320.40 205.23,320.40 205.48,320.40 205.73,320.40 205.98,320.40 206.23,320.40 206.48,320.40 206.73,320.40 206.97,320.40 207.22,320.40 207.47,320.40 207.72,320.40 207.97,320.40 208.22,320.40 208.46,320.40 208.71,320.40 208.96,320.40 209.21,320.40 209.46,320.40 209.71,320.40 209.96,320.40 210.20,320.40 210.45,320.40 210.70,320.40 210.95,320.40 211.20,320.40 211.45,320.40 211.70,320.40 211.94,320.40 212.19,320.40 212.44,320.40 212.69,320.40 212.94,320.40 213.19,320.39 213.44,320.37 213.68,320.33 213.93,320.29 214.18,320.25 214.43,320.20 214.68,320.15 214.93,320.09 215.18,320.03 215.42,319.95 215.67,319.86 215.92,319.75 216.17,319.64 216.42,319.51 216.67,319.38 216.92,319.25 217.16,319.12 217.41,318.98 217.66,318.84 217.91,318.69 218.16,318.54 218.41,318.37 218.65,318.20 218.90,318.02 219.15,317.84 219.40,317.66 219.65,317.47 219.90,317.28 220.15,317.10 220.39,316.91 220.64,316.73 220.89,316.54 221.14,316.35 221.39,316.17 221.64,315.98 221.89,315.78 222.13,315.59 222.38,315.39 222.63,315.19 222.88,314.98 223.13,314.77 223.38,314.56 223.63,314.34 223.87,314.11 224.12,313.88 224.37,313.64 224.62,313.39 224.87,313.13 225.12,312.87 225.37,312.59 225.61,312.32 225.86,312.04 226.11,311.75 226.36,311.46 226.61,311.17 226.86,310.89 227.11,310.60 227.35,310.31 227.60,310.03 227.85,309.75 228.10,309.48 228.35,309.21 228.60,308.95 228.84,308.69 229.09,308.43 229.34,308.18 229.59,307.93 229.84,307.68 230.09,307.44 230.34,307.19 230.58,306.95 230.83,306.71 231.08,306.46 231.33,306.22 231.58,305.98 231.83,305.74 232.08,305.50 232.32,305.25 232.57,305.01 232.82,304.77 233.07,304.52 233.32,304.28 233.57,304.03 233.82,303.79 234.06,303.55 234.31,303.31 234.56,303.08 234.81,302.84 235.06,302.60 235.31,302.36 235.56,302.12 235.80,301.88 236.05,301.63 236.30,301.39 236.55,301.14 236.80,300.88 237.05,300.63 237.30,300.37 237.54,300.10 237.79,299.83 238.04,299.57 238.29,299.31 238.54,299.05 238.79,298.79 239.03,298.52 239.28,298.26 239.53,297.99 239.78,297.72 240.03,297.44 240.28,297.16 240.53,296.87 240.77,296.57 241.02,296.25 241.27,295.93 241.52,295.60 241.77,295.25 242.02,294.88 242.27,294.50 242.51,294.10 242.76,293.67 243.01,293.21 243.26,292.72 243.51,292.21 243.76,291.66 244.01,291.10 244.25,290.52 244.50,289.91 244.75,289.30 245.00,288.66 245.25,288.01 245.50,287.36 245.75,286.69 245.99,286.02 246.24,285.34 246.49,284.66 246.74,283.98 246.99,283.29 247.24,282.57 247.49,281.84 247.73,281.08 247.98,280.30 248.23,279.51 248.48,278.71 248.73,277.89 248.98,277.07 249.22,276.24 249.47,275.41 249.72,274.57 249.97,273.74 250.22,272.90 250.47,272.03 250.72,271.15 250.96,270.25 251.21,269.34 251.46,268.43 251.71,267.52 251.96,266.61 252.21,265.71 252.46,264.82 252.70,263.96 252.95,263.12 253.20,262.31 253.45,261.51 253.70,260.72 253.95,259.94 254.20,259.17 254.44,258.41 254.69,257.66 254.94,256.94 255.19,256.23 255.44,255.54 255.69,254.87 255.94,254.22 256.18,253.57 256.43,252.91 256.68,252.25 256.93,251.61 257.18,251.00 257.43,250.42 257.68,249.89 257.92,249.41 258.17,249.00 258.42,248.65 258.67,248.31 258.92,247.98 259.17,247.66 259.41,247.35 259.66,247.06 259.91,246.80 260.16,246.58 260.41,246.39 260.66,246.24 260.91,246.14 261.15,246.10 261.40,246.12 261.65,246.21 261.90,246.37 262.15,246.57 262.40,246.83 262.65,247.12 262.89,247.44 263.14,247.79 263.39,248.16 263.64,248.53 263.89,248.95 264.14,249.49 264.39,250.12 264.63,250.85 264.88,251.66 265.13,252.53 265.38,253.47 265.63,254.45 265.88,255.48 266.13,256.52 266.37,257.58 266.62,258.64 266.87,259.70 267.12,260.75 267.37,261.85 267.62,263.01 267.87,264.21 268.11,265.46 268.36,266.75 268.61,268.06 268.86,269.40 269.11,270.76 269.36,272.13 269.61,273.50 269.85,274.87 270.10,276.23 270.35,277.58 270.60,278.91 270.85,280.27 271.10,281.66 271.34,283.08 271.59,284.51 271.84,285.94 272.09,287.38 272.34,288.80 272.59,290.20 272.84,291.57 273.08,292.91 273.33,294.19 273.58,295.42 273.83,296.59 274.08,297.72 274.33,298.84 274.58,299.95 274.82,301.04 275.07,302.11 275.32,303.16 275.57,304.18 275.82,305.17 276.07,306.12 276.32,307.02 276.56,307.88 276.81,308.70 277.06,309.46 277.31,310.16 277.56,310.82 277.81,311.46 278.06,312.09 278.30,312.69 278.55,313.27 278.80,313.83 279.05,314.36 279.30,314.86 279.55,315.33 279.80,315.77 280.04,316.18 280.29,316.55 280.54,316.89 280.79,317.19 281.04,317.49 281.29,317.79 281.53,318.08 281.78,318.36 282.03,318.62 282.28,318.88 282.53,319.11 282.78,319.32 283.03,319.51 283.27,319.68 283.52,319.81 283.77,319.91 284.02,319.98 284.27,320.01 284.52,320.04 284.77,320.07 285.01,320.09 285.26,320.12 285.51,320.14 285.76,320.16 286.01,320.18 286.26,320.20 286.51,320.22 286.75,320.24 287.00,320.26 287.25,320.27 287.50,320.29 287.75,320.30 288.00,320.32 288.25,320.33 288.49,320.34 288.74,320.35 288.99,320.36 289.24,320.37 289.49,320.37 289.74,320.38 289.99,320.39 290.23,320.39 290.48,320.39 290.73,320.40 290.98,320.40 291.23,320.40 291.48,320.40 291.72,320.40 291.97,320.40 292.22,320.40 292.47,320.40 292.72,320.40 292.97,320.40 293.22,320.40 293.46,320.39 293.71,320.39 293.96,320.39 294.21,320.39 294.46,320.39 294.71,320.38 294.96,320.38 295.20,320.38 295.45,320.38 295.70,320.37 295.95,320.37 296.20,320.37 296.45,320.37 296.70,320.36 296.94,320.36 297.19,320.36 297.44,320.35 297.69,320.35 297.94,320.35 298.19,320.34 298.44,320.34 298.68,320.33 298.93,320.33 299.18,320.33 299.43,320.32 299.68,320.32 299.93,320.31 300.18,320.31 300.42,320.30 300.67,320.30 300.92,320.29 301.17,320.29 301.42,320.29 301.67,320.28 301.91,320.28 302.16,320.27 302.41,320.27 302.66,320.26 302.91,320.26 303.16,320.25 303.41,320.25 303.65,320.24 303.90,320.24 304.15,320.23 304.40,320.23 304.65,320.22 304.90,320.22 305.15,320.21 305.39,320.21 305.64,320.20 305.89,320.20 306.14,320.19 306.39,320.19 306.64,320.18 306.89,320.18 307.13,320.17 307.38,320.17 307.63,320.16 307.88,320.15 308.13,320.15 308.38,320.14 308.63,320.13 308.87,320.13 309.12,320.12 309.37,320.11 309.62,320.11 309.87,320.10 310.12,320.09 310.37,320.08 310.61,320.08 310.86,320.07 311.11,320.06 311.36,320.05 311.61,320.04 311.86,320.04 312.10,320.03 312.35,320.02 312.60,320.01 312.85,320.00 313.10,320.00 313.35,319.99 313.60,319.98 313.84,319.97 314.09,319.96 314.34,319.96 314.59,319.95 314.84,319.94 315.09,319.93 315.34,319.93 315.58,319.92 315.83,319.91 316.08,319.90 316.33,319.90 316.58,319.89 316.83,319.88 317.08,319.87 317.32,319.87 317.57,319.86 317.82,319.85 318.07,319.85 318.32,319.84 318.57,319.83 318.82,319.82 319.06,319.82 319.31,319.81 319.56,319.80 319.81,319.79 320.06,319.79 320.31,319.78 320.56,319.77 320.80,319.77 321.05,319.76 321.30,319.75 321.55,319.74 321.80,319.74 322.05,319.73 322.29,319.72 322.54,319.72 322.79,319.71 323.04,319.70 323.29,319.69 323.54,319.69 323.79,319.68 324.03,319.67 324.28,319.66 324.53,319.66 324.78,319.65 325.03,319.64 325.28,319.64 325.53,319.63 325.77,319.62 326.02,319.61 326.27,319.61 326.52,319.60" fill="none" stroke="#f21c1c" stroke-width="1.1"  stroke-linejoin="round" />
<text x="210.00" y="262.40" font-size="10.9" text-anchor="start" fill="#28466a" font-weight="normal" >Sr<tspan dy="-4.2" font-size="7.2">2+</tspan></text>
<text x="274.60" y="262.40" font-size="10.9" text-anchor="start" fill="#d4283a" font-weight="normal" >Sr<tspan dy="-4.2" font-size="7.2">2+</tspan><tspan dy="4.2">/Cs</tspan><tspan dy="-4.2" font-size="7.2">+</tspan></text>
<rect x="390.5" y="277.3" width="243.80" height="50.40" fill="#e0e0e0"/>
<rect x="390.50" y="33.20" width="243.80" height="294.50" fill="none" stroke="#262626" stroke-width="1.1"/>
<line x1="390.50" y1="323.97" x2="392.70" y2="323.97" stroke="#262626" stroke-width="0.9" />
<line x1="390.50" y1="320.45" x2="392.70" y2="320.45" stroke="#262626" stroke-width="0.9" />
<line x1="390.50" y1="317.40" x2="392.70" y2="317.40" stroke="#262626" stroke-width="0.9" />
<line x1="390.50" y1="314.71" x2="392.70" y2="314.71" stroke="#262626" stroke-width="0.9" />
<line x1="390.50" y1="312.30" x2="394.50" y2="312.30" stroke="#262626" stroke-width="0.9" />
<line x1="390.50" y1="296.47" x2="392.70" y2="296.47" stroke="#262626" stroke-width="0.9" />
<line x1="390.50" y1="287.20" x2="392.70" y2="287.20" stroke="#262626" stroke-width="0.9" />
<line x1="390.50" y1="280.63" x2="392.70" y2="280.63" stroke="#262626" stroke-width="0.9" />
<line x1="390.50" y1="275.53" x2="392.70" y2="275.53" stroke="#262626" stroke-width="0.9" />
<line x1="390.50" y1="271.37" x2="392.70" y2="271.37" stroke="#262626" stroke-width="0.9" />
<line x1="390.50" y1="267.85" x2="392.70" y2="267.85" stroke="#262626" stroke-width="0.9" />
<line x1="390.50" y1="264.80" x2="392.70" y2="264.80" stroke="#262626" stroke-width="0.9" />
<line x1="390.50" y1="262.11" x2="392.70" y2="262.11" stroke="#262626" stroke-width="0.9" />
<line x1="390.50" y1="259.70" x2="394.50" y2="259.70" stroke="#262626" stroke-width="0.9" />
<line x1="390.50" y1="243.87" x2="392.70" y2="243.87" stroke="#262626" stroke-width="0.9" />
<line x1="390.50" y1="234.60" x2="392.70" y2="234.60" stroke="#262626" stroke-width="0.9" />
<line x1="390.50" y1="228.03" x2="392.70" y2="228.03" stroke="#262626" stroke-width="0.9" />
<line x1="390.50" y1="222.93" x2="392.70" y2="222.93" stroke="#262626" stroke-width="0.9" />
<line x1="390.50" y1="218.77" x2="392.70" y2="218.77" stroke="#262626" stroke-width="0.9" />
<line x1="390.50" y1="215.25" x2="392.70" y2="215.25" stroke="#262626" stroke-width="0.9" />
<line x1="390.50" y1="212.20" x2="392.70" y2="212.20" stroke="#262626" stroke-width="0.9" />
<line x1="390.50" y1="209.51" x2="392.70" y2="209.51" stroke="#262626" stroke-width="0.9" />
<line x1="390.50" y1="207.10" x2="394.50" y2="207.10" stroke="#262626" stroke-width="0.9" />
<line x1="390.50" y1="191.27" x2="392.70" y2="191.27" stroke="#262626" stroke-width="0.9" />
<line x1="390.50" y1="182.00" x2="392.70" y2="182.00" stroke="#262626" stroke-width="0.9" />
<line x1="390.50" y1="175.43" x2="392.70" y2="175.43" stroke="#262626" stroke-width="0.9" />
<line x1="390.50" y1="170.33" x2="392.70" y2="170.33" stroke="#262626" stroke-width="0.9" />
<line x1="390.50" y1="166.17" x2="392.70" y2="166.17" stroke="#262626" stroke-width="0.9" />
<line x1="390.50" y1="162.65" x2="392.70" y2="162.65" stroke="#262626" stroke-width="0.9" />
<line x1="390.50" y1="159.60" x2="392.70" y2="159.60" stroke="#262626" stroke-width="0.9" />
<line x1="390.50" y1="156.91" x2="392.70" y2="156.91" stroke="#262626" stroke-width="0.9" />
<line x1="390.50" y1="154.50" x2="394.50" y2="154.50" stroke="#262626" stroke-width="0.9" />
<line x1="390.50" y1="138.67" x2="392.70" y2="138.67" stroke="#262626" stroke-width="0.9" />
<line x1="390.50" y1="129.40" x2="392.70" y2="129.40" stroke="#262626" stroke-width="0.9" />
<line x1="390.50" y1="122.83" x2="392.70" y2="122.83" stroke="#262626" stroke-width="0.9" />
<line x1="390.50" y1="117.73" x2="392.70" y2="117.73" stroke="#262626" stroke-width="0.9" />
<line x1="390.50" y1="113.57" x2="392.70" y2="113.57" stroke="#262626" stroke-width="0.9" />
<line x1="390.50" y1="110.05" x2="392.70" y2="110.05" stroke="#262626" stroke-width="0.9" />
<line x1="390.50" y1="107.00" x2="392.70" y2="107.00" stroke="#262626" stroke-width="0.9" />
<line x1="390.50" y1="104.31" x2="392.70" y2="104.31" stroke="#262626" stroke-width="0.9" />
<line x1="390.50" y1="101.90" x2="394.50" y2="101.90" stroke="#262626" stroke-width="0.9" />
<line x1="390.50" y1="86.07" x2="392.70" y2="86.07" stroke="#262626" stroke-width="0.9" />
<line x1="390.50" y1="76.80" x2="392.70" y2="76.80" stroke="#262626" stroke-width="0.9" />
<line x1="390.50" y1="70.23" x2="392.70" y2="70.23" stroke="#262626" stroke-width="0.9" />
<line x1="390.50" y1="65.13" x2="392.70" y2="65.13" stroke="#262626" stroke-width="0.9" />
<line x1="390.50" y1="60.97" x2="392.70" y2="60.97" stroke="#262626" stroke-width="0.9" />
<line x1="390.50" y1="57.45" x2="392.70" y2="57.45" stroke="#262626" stroke-width="0.9" />
<line x1="390.50" y1="54.40" x2="392.70" y2="54.40" stroke="#262626" stroke-width="0.9" />
<line x1="390.50" y1="51.71" x2="392.70" y2="51.71" stroke="#262626" stroke-width="0.9" />
<line x1="390.50" y1="49.30" x2="394.50" y2="49.30" stroke="#262626" stroke-width="0.9" />
<line x1="390.50" y1="33.47" x2="392.70" y2="33.47" stroke="#262626" stroke-width="0.9" />
<line x1="634.30" y1="325.17" x2="632.10" y2="325.17" stroke="#262626" stroke-width="0.9" />
<line x1="634.30" y1="318.62" x2="632.10" y2="318.62" stroke="#262626" stroke-width="0.9" />
<line x1="634.30" y1="313.54" x2="632.10" y2="313.54" stroke="#262626" stroke-width="0.9" />
<line x1="634.30" y1="309.39" x2="632.10" y2="309.39" stroke="#262626" stroke-width="0.9" />
<line x1="634.30" y1="305.87" x2="632.10" y2="305.87" stroke="#262626" stroke-width="0.9" />
<line x1="634.30" y1="302.83" x2="632.10" y2="302.83" stroke="#262626" stroke-width="0.9" />
<line x1="634.30" y1="300.15" x2="632.10" y2="300.15" stroke="#262626" stroke-width="0.9" />
<line x1="634.30" y1="297.75" x2="630.30" y2="297.75" stroke="#262626" stroke-width="0.9" />
<line x1="634.30" y1="281.96" x2="632.10" y2="281.96" stroke="#262626" stroke-width="0.9" />
<line x1="634.30" y1="272.72" x2="632.10" y2="272.72" stroke="#262626" stroke-width="0.9" />
<line x1="634.30" y1="266.17" x2="632.10" y2="266.17" stroke="#262626" stroke-width="0.9" />
<line x1="634.30" y1="261.09" x2="632.10" y2="261.09" stroke="#262626" stroke-width="0.9" />
<line x1="634.30" y1="256.94" x2="632.10" y2="256.94" stroke="#262626" stroke-width="0.9" />
<line x1="634.30" y1="253.42" x2="632.10" y2="253.42" stroke="#262626" stroke-width="0.9" />
<line x1="634.30" y1="250.38" x2="632.10" y2="250.38" stroke="#262626" stroke-width="0.9" />
<line x1="634.30" y1="247.70" x2="632.10" y2="247.70" stroke="#262626" stroke-width="0.9" />
<line x1="634.30" y1="245.30" x2="630.30" y2="245.30" stroke="#262626" stroke-width="0.9" />
<line x1="634.30" y1="229.51" x2="632.10" y2="229.51" stroke="#262626" stroke-width="0.9" />
<line x1="634.30" y1="220.27" x2="632.10" y2="220.27" stroke="#262626" stroke-width="0.9" />
<line x1="634.30" y1="213.72" x2="632.10" y2="213.72" stroke="#262626" stroke-width="0.9" />
<line x1="634.30" y1="208.64" x2="632.10" y2="208.64" stroke="#262626" stroke-width="0.9" />
<line x1="634.30" y1="204.49" x2="632.10" y2="204.49" stroke="#262626" stroke-width="0.9" />
<line x1="634.30" y1="200.97" x2="632.10" y2="200.97" stroke="#262626" stroke-width="0.9" />
<line x1="634.30" y1="197.93" x2="632.10" y2="197.93" stroke="#262626" stroke-width="0.9" />
<line x1="634.30" y1="195.25" x2="632.10" y2="195.25" stroke="#262626" stroke-width="0.9" />
<line x1="634.30" y1="192.85" x2="630.30" y2="192.85" stroke="#262626" stroke-width="0.9" />
<line x1="634.30" y1="177.06" x2="632.10" y2="177.06" stroke="#262626" stroke-width="0.9" />
<line x1="634.30" y1="167.82" x2="632.10" y2="167.82" stroke="#262626" stroke-width="0.9" />
<line x1="634.30" y1="161.27" x2="632.10" y2="161.27" stroke="#262626" stroke-width="0.9" />
<line x1="634.30" y1="156.19" x2="632.10" y2="156.19" stroke="#262626" stroke-width="0.9" />
<line x1="634.30" y1="152.04" x2="632.10" y2="152.04" stroke="#262626" stroke-width="0.9" />
<line x1="634.30" y1="148.52" x2="632.10" y2="148.52" stroke="#262626" stroke-width="0.9" />
<line x1="634.30" y1="145.48" x2="632.10" y2="145.48" stroke="#262626" stroke-width="0.9" />
<line x1="634.30" y1="142.80" x2="632.10" y2="142.80" stroke="#262626" stroke-width="0.9" />
<line x1="634.30" y1="140.40" x2="630.30" y2="140.40" stroke="#262626" stroke-width="0.9" />
<line x1="634.30" y1="124.61" x2="632.10" y2="124.61" stroke="#262626" stroke-width="0.9" />
<line x1="634.30" y1="115.37" x2="632.10" y2="115.37" stroke="#262626" stroke-width="0.9" />
<line x1="634.30" y1="108.82" x2="632.10" y2="108.82" stroke="#262626" stroke-width="0.9" />
<line x1="634.30" y1="103.74" x2="632.10" y2="103.74" stroke="#262626" stroke-width="0.9" />
<line x1="634.30" y1="99.59" x2="632.10" y2="99.59" stroke="#262626" stroke-width="0.9" />
<line x1="634.30" y1="96.07" x2="632.10" y2="96.07" stroke="#262626" stroke-width="0.9" />
<line x1="634.30" y1="93.03" x2="632.10" y2="93.03" stroke="#262626" stroke-width="0.9" />
<line x1="634.30" y1="90.35" x2="632.10" y2="90.35" stroke="#262626" stroke-width="0.9" />
<line x1="634.30" y1="87.95" x2="630.30" y2="87.95" stroke="#262626" stroke-width="0.9" />
<line x1="634.30" y1="72.16" x2="632.10" y2="72.16" stroke="#262626" stroke-width="0.9" />
<line x1="634.30" y1="62.92" x2="632.10" y2="62.92" stroke="#262626" stroke-width="0.9" />
<line x1="634.30" y1="56.37" x2="632.10" y2="56.37" stroke="#262626" stroke-width="0.9" />
<line x1="634.30" y1="51.29" x2="632.10" y2="51.29" stroke="#262626" stroke-width="0.9" />
<line x1="634.30" y1="47.14" x2="632.10" y2="47.14" stroke="#262626" stroke-width="0.9" />
<line x1="634.30" y1="43.62" x2="632.10" y2="43.62" stroke="#262626" stroke-width="0.9" />
<line x1="634.30" y1="40.58" x2="632.10" y2="40.58" stroke="#262626" stroke-width="0.9" />
<line x1="634.30" y1="37.90" x2="632.10" y2="37.90" stroke="#262626" stroke-width="0.9" />
<line x1="634.30" y1="35.50" x2="630.30" y2="35.50" stroke="#262626" stroke-width="0.9" />
<line x1="421.05" y1="327.70" x2="421.05" y2="325.50" stroke="#262626" stroke-width="0.9" />
<line x1="451.60" y1="327.70" x2="451.60" y2="323.70" stroke="#262626" stroke-width="0.9" />
<line x1="482.15" y1="327.70" x2="482.15" y2="325.50" stroke="#262626" stroke-width="0.9" />
<line x1="512.70" y1="327.70" x2="512.70" y2="323.70" stroke="#262626" stroke-width="0.9" />
<line x1="543.25" y1="327.70" x2="543.25" y2="325.50" stroke="#262626" stroke-width="0.9" />
<line x1="573.80" y1="327.70" x2="573.80" y2="323.70" stroke="#262626" stroke-width="0.9" />
<line x1="604.35" y1="327.70" x2="604.35" y2="325.50" stroke="#262626" stroke-width="0.9" />
<text x="390.80" y="342.20" font-size="12.1" text-anchor="middle" fill="#000" font-weight="normal" >0</text>
<text x="451.90" y="342.20" font-size="12.1" text-anchor="middle" fill="#000" font-weight="normal" >−2000</text>
<text x="513.00" y="342.20" font-size="12.1" text-anchor="middle" fill="#000" font-weight="normal" >−4000</text>
<text x="574.10" y="342.20" font-size="12.1" text-anchor="middle" fill="#000" font-weight="normal" >−6000</text>
<text x="635.20" y="342.20" font-size="12.1" text-anchor="middle" fill="#000" font-weight="normal" >−8000</text>
<text x="387.20" y="53.50" font-size="12.1" text-anchor="end" fill="#000" font-weight="normal" >10<tspan dy="-4.6" font-size="8.2">1</tspan></text>
<text x="387.20" y="106.10" font-size="12.1" text-anchor="end" fill="#000" font-weight="normal" >10<tspan dy="-4.6" font-size="8.2">0</tspan></text>
<text x="387.20" y="158.70" font-size="12.1" text-anchor="end" fill="#000" font-weight="normal" >10<tspan dy="-4.6" font-size="8.2">−1</tspan></text>
<text x="387.20" y="211.30" font-size="12.1" text-anchor="end" fill="#000" font-weight="normal" >10<tspan dy="-4.6" font-size="8.2">−2</tspan></text>
<text x="387.20" y="263.90" font-size="12.1" text-anchor="end" fill="#000" font-weight="normal" >10<tspan dy="-4.6" font-size="8.2">−3</tspan></text>
<text x="387.20" y="316.50" font-size="12.1" text-anchor="end" fill="#000" font-weight="normal" >10<tspan dy="-4.6" font-size="8.2">−4</tspan></text>
<text x="639.60" y="40.30" font-size="12.1" text-anchor="start" fill="#000" font-weight="normal" >10<tspan dy="-4.6" font-size="8.2">−11</tspan></text>
<text x="639.60" y="92.75" font-size="12.1" text-anchor="start" fill="#000" font-weight="normal" >10<tspan dy="-4.6" font-size="8.2">−12</tspan></text>
<text x="639.60" y="145.20" font-size="12.1" text-anchor="start" fill="#000" font-weight="normal" >10<tspan dy="-4.6" font-size="8.2">−13</tspan></text>
<text x="639.60" y="197.65" font-size="12.1" text-anchor="start" fill="#000" font-weight="normal" >10<tspan dy="-4.6" font-size="8.2">−14</tspan></text>
<text x="639.60" y="250.10" font-size="12.1" text-anchor="start" fill="#000" font-weight="normal" >10<tspan dy="-4.6" font-size="8.2">−15</tspan></text>
<text x="639.60" y="302.55" font-size="12.1" text-anchor="start" fill="#000" font-weight="normal" >10<tspan dy="-4.6" font-size="8.2">−16</tspan></text>
<text x="381.70" y="15.00" font-size="12.3" text-anchor="start" fill="#000" font-weight="bold" stroke="#000" stroke-width="0.35">e</text>
<text transform="translate(359.20,179.85) rotate(-90)" x="0" y="0" font-size="13.0" text-anchor="middle" fill="#000" textLength="109.6" lengthAdjust="spacingAndGlyphs">Flux (mmol m<tspan dy="-4.8" font-size="8.6">-2</tspan><tspan dy="4.8"> h</tspan><tspan dy="-4.8" font-size="8.6">-1</tspan><tspan dy="4.8">)</tspan></text>
<text transform="translate(681.70,182.45) rotate(-90)" x="0" y="0" font-size="13.5" text-anchor="middle" fill="#000" textLength="122.9" lengthAdjust="spacingAndGlyphs">Permeability (m<tspan dy="-5.0" font-size="8.8">2</tspan><tspan dy="5.0"> s</tspan><tspan dy="-5.0" font-size="8.8">-1</tspan><tspan dy="5.0">)</tspan></text>
<text x="522.40" y="363.20" font-size="12.1" text-anchor="middle" fill="#000" font-weight="normal" textLength="194.5" lengthAdjust="spacingAndGlyphs" >Gibbs energy of hydration (kJ mol<tspan dy="-4.4" font-size="7.8">-1</tspan><tspan dy="4.4">)</tspan></text>
<line x1="437.20" y1="82.50" x2="437.20" y2="126.00" stroke="#8c8c8c" stroke-width="0.8" />
<line x1="435.20" y1="82.50" x2="439.20" y2="82.50" stroke="#8c8c8c" stroke-width="0.8" />
<line x1="435.20" y1="126.00" x2="439.20" y2="126.00" stroke="#8c8c8c" stroke-width="0.8" />
<line x1="446.80" y1="88.70" x2="446.80" y2="145.00" stroke="#8c8c8c" stroke-width="0.8" />
<line x1="444.80" y1="88.70" x2="448.80" y2="88.70" stroke="#8c8c8c" stroke-width="0.8" />
<line x1="444.80" y1="145.00" x2="448.80" y2="145.00" stroke="#8c8c8c" stroke-width="0.8" />
<line x1="433.50" y1="114.40" x2="433.50" y2="128.00" stroke="#8c8c8c" stroke-width="0.8" />
<line x1="431.50" y1="114.40" x2="435.50" y2="114.40" stroke="#8c8c8c" stroke-width="0.8" />
<line x1="431.50" y1="128.00" x2="435.50" y2="128.00" stroke="#8c8c8c" stroke-width="0.8" />
<line x1="487.30" y1="117.10" x2="487.30" y2="194.10" stroke="#8c8c8c" stroke-width="0.8" />
<line x1="485.30" y1="117.10" x2="489.30" y2="117.10" stroke="#8c8c8c" stroke-width="0.8" />
<line x1="485.30" y1="194.10" x2="489.30" y2="194.10" stroke="#8c8c8c" stroke-width="0.8" />
<line x1="597.20" y1="116.40" x2="597.20" y2="170.00" stroke="#8c8c8c" stroke-width="0.8" />
<line x1="595.20" y1="116.40" x2="599.20" y2="116.40" stroke="#8c8c8c" stroke-width="0.8" />
<line x1="595.20" y1="170.00" x2="599.20" y2="170.00" stroke="#8c8c8c" stroke-width="0.8" />
<line x1="433.40" y1="178.00" x2="433.40" y2="226.70" stroke="#777" stroke-width="0.8" />
<line x1="431.40" y1="178.00" x2="435.40" y2="178.00" stroke="#777" stroke-width="0.8" />
<line x1="431.40" y1="226.70" x2="435.40" y2="226.70" stroke="#777" stroke-width="0.8" />
<line x1="437.60" y1="165.50" x2="437.60" y2="172.50" stroke="#555" stroke-width="0.8" />
<line x1="435.60" y1="165.50" x2="439.60" y2="165.50" stroke="#555" stroke-width="0.8" />
<line x1="435.60" y1="172.50" x2="439.60" y2="172.50" stroke="#555" stroke-width="0.8" />
<line x1="446.50" y1="177.00" x2="446.50" y2="191.50" stroke="#555" stroke-width="0.8" />
<line x1="444.50" y1="177.00" x2="448.50" y2="177.00" stroke="#555" stroke-width="0.8" />
<line x1="444.50" y1="191.50" x2="448.50" y2="191.50" stroke="#555" stroke-width="0.8" />
<line x1="487.20" y1="280.00" x2="487.20" y2="321.00" stroke="#777" stroke-width="0.8" />
<line x1="485.20" y1="280.00" x2="489.20" y2="280.00" stroke="#777" stroke-width="0.8" />
<line x1="485.20" y1="321.00" x2="489.20" y2="321.00" stroke="#777" stroke-width="0.8" />
<line x1="597.20" y1="275.30" x2="597.20" y2="311.70" stroke="#888" stroke-width="0.8" />
<line x1="595.20" y1="275.30" x2="599.20" y2="275.30" stroke="#888" stroke-width="0.8" />
<line x1="595.20" y1="311.70" x2="599.20" y2="311.70" stroke="#888" stroke-width="0.8" />
<line x1="489.40" y1="268.50" x2="489.40" y2="276.00" stroke="#555" stroke-width="0.8" />
<line x1="487.40" y1="268.50" x2="491.40" y2="268.50" stroke="#555" stroke-width="0.8" />
<line x1="487.40" y1="276.00" x2="491.40" y2="276.00" stroke="#555" stroke-width="0.8" />
<polyline points="391.00,38.00 391.67,39.87 392.57,42.41 393.65,45.44 394.84,48.78 396.09,52.24 397.32,55.65 398.48,58.83 399.50,61.60 400.41,64.00 401.27,66.21 402.09,68.29 402.88,70.26 403.66,72.18 404.43,74.08 405.21,76.01 406.00,78.00 406.80,80.09 407.58,82.24 408.36,84.42 409.14,86.59 409.93,88.69 410.73,90.69 411.55,92.54 412.40,94.20 413.28,95.64 414.18,96.90 415.11,98.01 416.04,99.01 416.99,99.95 417.93,100.87 418.87,101.81 419.80,102.80 420.73,103.85 421.66,104.90 422.61,105.96 423.54,107.00 424.47,108.02 425.38,109.00 426.26,109.93 427.10,110.80 427.91,111.62 428.70,112.40 429.47,113.14 430.22,113.84 430.94,114.49 431.65,115.11 432.33,115.68 433.00,116.20 433.60,116.66 434.12,117.05 434.59,117.39 435.06,117.69 435.55,117.96 436.11,118.23 436.79,118.50 437.60,118.80 438.56,119.12 439.64,119.45 440.82,119.78 442.06,120.11 443.36,120.43 444.70,120.72 446.05,120.98 447.40,121.20 447.64,121.38 446.34,121.52 444.42,121.63 442.86,121.72 442.58,121.79 444.55,121.86 449.70,121.93 459.00,122.00 474.28,122.08 495.42,122.16 520.45,122.23 547.38,122.30 574.21,122.36 598.96,122.42 619.66,122.46 634.30,122.50" fill="none" stroke="#1e1e1e" stroke-width="1.25" stroke-dasharray="3.8,3" stroke-linejoin="round" />
<polyline points="391.00,38.00 391.71,39.94 392.66,42.57 393.80,45.70 395.06,49.16 396.38,52.75 397.68,56.29 398.91,59.60 400.00,62.50 400.97,65.03 401.90,67.39 402.80,69.62 403.66,71.76 404.51,73.83 405.34,75.87 406.17,77.91 407.00,80.00 407.82,82.08 408.63,84.11 409.42,86.10 410.20,88.09 410.98,90.09 411.77,92.12 412.58,94.22 413.40,96.40 414.24,98.66 415.08,100.98 415.92,103.35 416.78,105.76 417.65,108.20 418.54,110.68 419.46,113.18 420.40,115.70 421.37,118.23 422.36,120.78 423.36,123.36 424.39,125.96 425.44,128.60 426.51,131.29 427.60,134.02 428.70,136.80 429.85,139.71 431.06,142.78 432.30,145.94 433.56,149.11 434.80,152.24 436.00,155.26 437.14,158.10 438.20,160.70 439.08,162.84 439.77,164.49 440.36,165.87 440.94,167.18 441.58,168.64 442.38,170.46 443.43,172.84 444.80,176.00 446.57,180.08 448.68,184.95 451.03,190.38 453.54,196.17 456.12,202.10 458.66,207.96 461.09,213.53 463.30,218.60 465.36,223.33 467.37,227.98 469.33,232.51 471.23,236.89 473.06,241.07 474.80,245.00 476.45,248.66 478.00,252.00 479.43,254.98 480.74,257.61 481.96,259.96 483.09,262.07 484.17,264.00 485.20,265.80 486.20,267.51 487.20,269.20 488.17,270.80 489.08,272.25 489.95,273.56 490.78,274.76 491.59,275.88 492.39,276.95 493.19,277.98 494.00,279.00 494.81,280.00 495.60,280.95 496.38,281.86 497.16,282.71 497.93,283.51 498.71,284.26 499.50,284.96 500.30,285.60 501.12,286.17 501.95,286.68 502.80,287.12 503.64,287.51 504.49,287.87 505.34,288.19 506.17,288.50 507.00,288.80 507.78,289.08 508.50,289.32 509.19,289.53 509.89,289.71 510.63,289.88 511.44,290.05 512.35,290.22 513.40,290.40 514.58,290.59 515.85,290.78 517.22,290.97 518.66,291.16 520.17,291.34 521.74,291.50 523.35,291.66 525.00,291.80 526.17,291.93 526.65,292.04 526.89,292.14 527.33,292.23 528.42,292.31 530.59,292.38 534.31,292.45 540.00,292.50 548.64,292.54 560.21,292.57 573.70,292.59 588.09,292.59 602.36,292.60 615.50,292.60 626.48,292.60 634.30,292.60" fill="none" stroke="#1e1e1e" stroke-width="1.25" stroke-dasharray="3.8,3" stroke-linejoin="round" />
<circle cx="398.50" cy="51.00" r="4.45" fill="#1d3854" stroke="#111" stroke-width="0.85"/>
<circle cx="399.10" cy="44.50" r="4.45" fill="#1d3854" stroke="#111" stroke-width="0.85"/>
<circle cx="399.90" cy="69.30" r="4.45" fill="#1d3854" stroke="#111" stroke-width="0.85"/>
<circle cx="406.30" cy="84.90" r="4.45" fill="#1d3854" stroke="#111" stroke-width="0.85"/>
<circle cx="402.30" cy="96.50" r="4.45" fill="#1d3854" stroke="#111" stroke-width="0.85"/>
<circle cx="406.80" cy="93.90" r="4.45" fill="#1d3854" stroke="#111" stroke-width="0.85"/>
<circle cx="437.20" cy="95.10" r="4.45" fill="#1d3854" stroke="#111" stroke-width="0.85"/>
<circle cx="446.80" cy="102.50" r="4.45" fill="#1d3854" stroke="#111" stroke-width="0.85"/>
<circle cx="433.50" cy="120.20" r="4.45" fill="#1d3854" stroke="#111" stroke-width="0.85"/>
<circle cx="487.30" cy="132.70" r="4.45" fill="#1d3854" stroke="#111" stroke-width="0.85"/>
<circle cx="597.20" cy="129.70" r="4.45" fill="#1d3854" stroke="#111" stroke-width="0.85"/>
<circle cx="398.70" cy="48.20" r="4.45" fill="#ee0a0a" stroke="#111" stroke-width="0.85"/>
<circle cx="400.70" cy="53.10" r="4.45" fill="#ee0a0a" stroke="#111" stroke-width="0.85"/>
<circle cx="402.30" cy="72.20" r="4.45" fill="#ee0a0a" stroke="#111" stroke-width="0.85"/>
<circle cx="405.60" cy="85.70" r="4.45" fill="#ee0a0a" stroke="#111" stroke-width="0.85"/>
<circle cx="437.60" cy="169.00" r="4.45" fill="#ee0a0a" stroke="#111" stroke-width="0.85"/>
<circle cx="433.40" cy="180.00" r="4.45" fill="#ee0a0a" stroke="#111" stroke-width="0.85"/>
<circle cx="446.50" cy="183.70" r="4.45" fill="#ee0a0a" stroke="#111" stroke-width="0.85"/>
<circle cx="489.40" cy="274.70" r="4.45" fill="#ee0a0a" stroke="#111" stroke-width="0.85"/>
<circle cx="487.20" cy="282.30" r="4.45" fill="#ee0a0a" stroke="#111" stroke-width="0.85"/>
<circle cx="521.50" cy="275.10" r="4.45" fill="#ee0a0a" stroke="#111" stroke-width="0.85"/>
<circle cx="529.40" cy="275.10" r="4.45" fill="#ee0a0a" stroke="#111" stroke-width="0.85"/>
<circle cx="597.20" cy="286.60" r="4.45" fill="#ee0a0a" stroke="#111" stroke-width="0.85"/>
<circle cx="578.40" cy="311.70" r="4.45" fill="#ee0a0a" stroke="#111" stroke-width="0.85"/>
<circle cx="620.30" cy="311.80" r="4.45" fill="#ee0a0a" stroke="#111" stroke-width="0.85"/>
<clipPath id="clipB"><rect x="385" y="33" width="40" height="47"/></clipPath>
<g clip-path="url(#clipB)">
<polyline points="391.00,38.00 391.71,39.94 392.66,42.57 393.80,45.70 395.06,49.16 396.38,52.75 397.68,56.29 398.91,59.60 400.00,62.50 400.97,65.03 401.90,67.39 402.80,69.62 403.66,71.76 404.51,73.83 405.34,75.87 406.17,77.91 407.00,80.00 407.82,82.08 408.63,84.11 409.42,86.10 410.20,88.09 410.98,90.09 411.77,92.12 412.58,94.22 413.40,96.40 414.24,98.66 415.08,100.98 415.92,103.35 416.78,105.76 417.65,108.20 418.54,110.68 419.46,113.18 420.40,115.70 421.37,118.23 422.36,120.78 423.36,123.36 424.39,125.96 425.44,128.60 426.51,131.29 427.60,134.02 428.70,136.80 429.85,139.71 431.06,142.78 432.30,145.94 433.56,149.11 434.80,152.24 436.00,155.26 437.14,158.10 438.20,160.70 439.08,162.84 439.77,164.49 440.36,165.87 440.94,167.18 441.58,168.64 442.38,170.46 443.43,172.84 444.80,176.00 446.57,180.08 448.68,184.95 451.03,190.38 453.54,196.17 456.12,202.10 458.66,207.96 461.09,213.53 463.30,218.60 465.36,223.33 467.37,227.98 469.33,232.51 471.23,236.89 473.06,241.07 474.80,245.00 476.45,248.66 478.00,252.00 479.43,254.98 480.74,257.61 481.96,259.96 483.09,262.07 484.17,264.00 485.20,265.80 486.20,267.51 487.20,269.20 488.17,270.80 489.08,272.25 489.95,273.56 490.78,274.76 491.59,275.88 492.39,276.95 493.19,277.98 494.00,279.00 494.81,280.00 495.60,280.95 496.38,281.86 497.16,282.71 497.93,283.51 498.71,284.26 499.50,284.96 500.30,285.60 501.12,286.17 501.95,286.68 502.80,287.12 503.64,287.51 504.49,287.87 505.34,288.19 506.17,288.50 507.00,288.80 507.78,289.08 508.50,289.32 509.19,289.53 509.89,289.71 510.63,289.88 511.44,290.05 512.35,290.22 513.40,290.40 514.58,290.59 515.85,290.78 517.22,290.97 518.66,291.16 520.17,291.34 521.74,291.50 523.35,291.66 525.00,291.80 526.17,291.93 526.65,292.04 526.89,292.14 527.33,292.23 528.42,292.31 530.59,292.38 534.31,292.45 540.00,292.50 548.64,292.54 560.21,292.57 573.70,292.59 588.09,292.59 602.36,292.60 615.50,292.60 626.48,292.60 634.30,292.60" fill="none" stroke="#1e1e1e" stroke-width="1.25" stroke-dasharray="3.8,3" stroke-linejoin="round" />
</g>
<text x="405.30" y="46.20" font-size="12.1" text-anchor="start" fill="#000" font-weight="normal" >Cs<tspan dy="-4.6" font-size="8.2">+</tspan></text>
<text x="410.90" y="60.60" font-size="12.1" text-anchor="start" fill="#000" font-weight="normal" >K<tspan dy="-4.6" font-size="8.2">+</tspan></text>
<text x="410.90" y="74.40" font-size="12.1" text-anchor="start" fill="#000" font-weight="normal" >Na<tspan dy="-4.6" font-size="8.2">+</tspan></text>
<text x="416.70" y="90.40" font-size="12.1" text-anchor="start" fill="#000" font-weight="normal" >Li<tspan dy="-4.6" font-size="8.2">+</tspan></text>
<text x="440.00" y="85.60" font-size="12.1" text-anchor="start" fill="#000" font-weight="normal" >Ca<tspan dy="-4.6" font-size="8.2">2+</tspan></text>
<text x="453.90" y="104.80" font-size="12.1" text-anchor="start" fill="#000" font-weight="normal" >Mg<tspan dy="-4.6" font-size="8.2">2+</tspan></text>
<text x="481.60" y="115.00" font-size="12.1" text-anchor="start" fill="#000" font-weight="normal" >La<tspan dy="-4.6" font-size="8.2">3+</tspan></text>
<text x="401.80" y="133.80" font-size="12.1" text-anchor="start" fill="#000" font-weight="normal" >Sr<tspan dy="-4.6" font-size="8.2">2+</tspan></text>
<text x="593.50" y="108.60" font-size="12.1" text-anchor="start" fill="#000" font-weight="normal" >Zr<tspan dy="-4.6" font-size="8.2">4+</tspan></text>
<text x="443.20" y="161.60" font-size="12.1" text-anchor="start" fill="#b3121e" font-weight="normal" >Ca<tspan dy="-4.6" font-size="8.2">2+</tspan></text>
<text x="409.20" y="193.20" font-size="12.1" text-anchor="start" fill="#b3121e" font-weight="normal" >Sr<tspan dy="-4.6" font-size="8.2">2+</tspan></text>
<text x="456.80" y="192.60" font-size="12.1" text-anchor="start" fill="#b3121e" font-weight="normal" >Mg<tspan dy="-4.6" font-size="8.2">2+</tspan></text>
<text x="483.20" y="252.40" font-size="12.1" text-anchor="start" fill="#b3121e" font-weight="normal" >Ce<tspan dy="-4.6" font-size="8.2">3+</tspan></text>
<text x="511.20" y="266.60" font-size="12.1" text-anchor="start" fill="#b3121e" font-weight="normal" >Fe<tspan dy="-4.6" font-size="8.2">3+</tspan></text>
<text x="537.00" y="274.00" font-size="12.1" text-anchor="start" fill="#b3121e" font-weight="normal" >Al<tspan dy="-4.6" font-size="8.2">3+</tspan></text>
<text x="490.40" y="305.80" font-size="12.1" text-anchor="start" fill="#b3121e" font-weight="normal" >La<tspan dy="-4.6" font-size="8.2">3+</tspan></text>
<text x="602.30" y="272.20" font-size="12.1" text-anchor="start" fill="#b3121e" font-weight="normal" >Zr<tspan dy="-4.6" font-size="8.2">4+</tspan></text>
<text x="557.80" y="310.20" font-size="12.1" text-anchor="start" fill="#b3121e" font-weight="normal" >Sn<tspan dy="-4.6" font-size="8.2">4+</tspan></text>
<text x="598.50" y="310.20" font-size="12.1" text-anchor="start" fill="#b3121e" font-weight="normal" >Ce<tspan dy="-4.6" font-size="8.2">4+</tspan></text>
<circle cx="541.00" cy="54.20" r="4.45" fill="#1d3854" stroke="#111" stroke-width="0.85"/>
<circle cx="541.00" cy="70.70" r="4.45" fill="#ee0a0a" stroke="#111" stroke-width="0.85"/>
<text x="558.50" y="58.30" font-size="12.1" text-anchor="start" fill="#000" font-weight="normal" >without Cs<tspan dy="-4.6" font-size="8.2">+</tspan></text>
<text x="558.50" y="74.80" font-size="12.1" text-anchor="start" fill="#000" font-weight="normal" >with Cs<tspan dy="-4.6" font-size="8.2">+</tspan></text>
</svg></body></html>
